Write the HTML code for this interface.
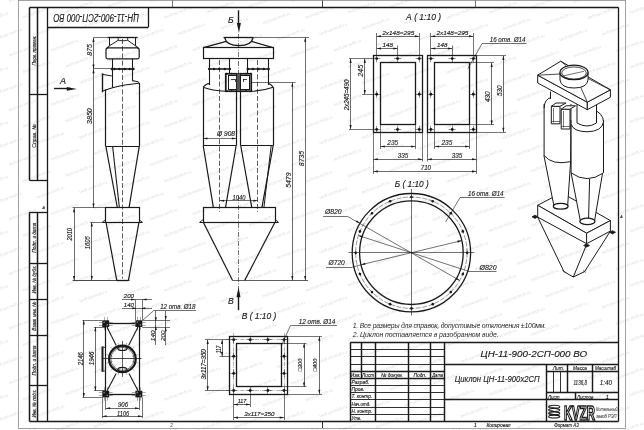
<!DOCTYPE html>
<html><head><meta charset="utf-8"><style>
html,body{margin:0;padding:0;background:#fff;width:644px;height:430px;overflow:hidden}
svg{display:block;filter:grayscale(1)}
text{font-family:"Liberation Sans",sans-serif}
</style></head><body>
<svg width="644" height="430" viewBox="0 0 644 430" stroke-linecap="butt">
<rect x="0" y="0" width="644" height="430" fill="#fff"/>
<defs><filter id="wb" x="-5%" y="-5%" width="110%" height="110%"><feGaussianBlur stdDeviation="0.45"/></filter><text id="wm" x="0" y="0" font-size="4.3" fill="#dcdcdc" textLength="29" lengthAdjust="spacingAndGlyphs" transform="rotate(-20.3)">tecfrost-tech.ru</text></defs>
<g filter="url(#wb)"><use href="#wm" x="-18.8" y="24.0"/><use href="#wm" x="-18.8" y="78.6"/><use href="#wm" x="-18.8" y="133.2"/><use href="#wm" x="-18.8" y="187.8"/><use href="#wm" x="-18.8" y="242.4"/><use href="#wm" x="-18.8" y="297.0"/><use href="#wm" x="-18.8" y="351.6"/><use href="#wm" x="-18.8" y="406.2"/><use href="#wm" x="-4.7" y="40.4"/><use href="#wm" x="-4.7" y="95.0"/><use href="#wm" x="-4.7" y="149.6"/><use href="#wm" x="-4.7" y="204.2"/><use href="#wm" x="-4.7" y="258.8"/><use href="#wm" x="-4.7" y="313.4"/><use href="#wm" x="-4.7" y="368.0"/><use href="#wm" x="-4.7" y="422.6"/><use href="#wm" x="9.4" y="2.2"/><use href="#wm" x="9.4" y="56.8"/><use href="#wm" x="9.4" y="111.4"/><use href="#wm" x="9.4" y="166.0"/><use href="#wm" x="9.4" y="220.6"/><use href="#wm" x="9.4" y="275.2"/><use href="#wm" x="9.4" y="329.8"/><use href="#wm" x="9.4" y="384.4"/><use href="#wm" x="9.4" y="439.0"/><use href="#wm" x="23.5" y="18.6"/><use href="#wm" x="23.5" y="73.2"/><use href="#wm" x="23.5" y="127.8"/><use href="#wm" x="23.5" y="182.4"/><use href="#wm" x="23.5" y="237.0"/><use href="#wm" x="23.5" y="291.6"/><use href="#wm" x="23.5" y="346.2"/><use href="#wm" x="23.5" y="400.8"/><use href="#wm" x="37.6" y="35.0"/><use href="#wm" x="37.6" y="89.6"/><use href="#wm" x="37.6" y="144.2"/><use href="#wm" x="37.6" y="198.8"/><use href="#wm" x="37.6" y="253.4"/><use href="#wm" x="37.6" y="308.0"/><use href="#wm" x="37.6" y="362.6"/><use href="#wm" x="37.6" y="417.2"/><use href="#wm" x="51.8" y="-3.2"/><use href="#wm" x="51.8" y="51.4"/><use href="#wm" x="51.8" y="106.0"/><use href="#wm" x="51.8" y="160.6"/><use href="#wm" x="51.8" y="215.2"/><use href="#wm" x="51.8" y="269.8"/><use href="#wm" x="51.8" y="324.4"/><use href="#wm" x="51.8" y="379.0"/><use href="#wm" x="51.8" y="433.6"/><use href="#wm" x="65.9" y="13.2"/><use href="#wm" x="65.9" y="67.8"/><use href="#wm" x="65.9" y="122.4"/><use href="#wm" x="65.9" y="177.0"/><use href="#wm" x="65.9" y="231.6"/><use href="#wm" x="65.9" y="286.2"/><use href="#wm" x="65.9" y="340.8"/><use href="#wm" x="65.9" y="395.4"/><use href="#wm" x="80.0" y="29.6"/><use href="#wm" x="80.0" y="84.2"/><use href="#wm" x="80.0" y="138.8"/><use href="#wm" x="80.0" y="193.4"/><use href="#wm" x="80.0" y="248.0"/><use href="#wm" x="80.0" y="302.6"/><use href="#wm" x="80.0" y="357.2"/><use href="#wm" x="80.0" y="411.8"/><use href="#wm" x="94.1" y="46.0"/><use href="#wm" x="94.1" y="100.6"/><use href="#wm" x="94.1" y="155.2"/><use href="#wm" x="94.1" y="209.8"/><use href="#wm" x="94.1" y="264.4"/><use href="#wm" x="94.1" y="319.0"/><use href="#wm" x="94.1" y="373.6"/><use href="#wm" x="94.1" y="428.2"/><use href="#wm" x="108.2" y="7.8"/><use href="#wm" x="108.2" y="62.4"/><use href="#wm" x="108.2" y="117.0"/><use href="#wm" x="108.2" y="171.6"/><use href="#wm" x="108.2" y="226.2"/><use href="#wm" x="108.2" y="280.8"/><use href="#wm" x="108.2" y="335.4"/><use href="#wm" x="108.2" y="390.0"/><use href="#wm" x="108.2" y="444.6"/><use href="#wm" x="122.4" y="24.2"/><use href="#wm" x="122.4" y="78.8"/><use href="#wm" x="122.4" y="133.4"/><use href="#wm" x="122.4" y="188.0"/><use href="#wm" x="122.4" y="242.6"/><use href="#wm" x="122.4" y="297.2"/><use href="#wm" x="122.4" y="351.8"/><use href="#wm" x="122.4" y="406.4"/><use href="#wm" x="136.5" y="40.6"/><use href="#wm" x="136.5" y="95.2"/><use href="#wm" x="136.5" y="149.8"/><use href="#wm" x="136.5" y="204.4"/><use href="#wm" x="136.5" y="259.0"/><use href="#wm" x="136.5" y="313.6"/><use href="#wm" x="136.5" y="368.2"/><use href="#wm" x="136.5" y="422.8"/><use href="#wm" x="150.6" y="2.4"/><use href="#wm" x="150.6" y="57.0"/><use href="#wm" x="150.6" y="111.6"/><use href="#wm" x="150.6" y="166.2"/><use href="#wm" x="150.6" y="220.8"/><use href="#wm" x="150.6" y="275.4"/><use href="#wm" x="150.6" y="330.0"/><use href="#wm" x="150.6" y="384.6"/><use href="#wm" x="150.6" y="439.2"/><use href="#wm" x="164.7" y="18.8"/><use href="#wm" x="164.7" y="73.4"/><use href="#wm" x="164.7" y="128.0"/><use href="#wm" x="164.7" y="182.6"/><use href="#wm" x="164.7" y="237.2"/><use href="#wm" x="164.7" y="291.8"/><use href="#wm" x="164.7" y="346.4"/><use href="#wm" x="164.7" y="401.0"/><use href="#wm" x="178.8" y="35.2"/><use href="#wm" x="178.8" y="89.8"/><use href="#wm" x="178.8" y="144.4"/><use href="#wm" x="178.8" y="199.0"/><use href="#wm" x="178.8" y="253.6"/><use href="#wm" x="178.8" y="308.2"/><use href="#wm" x="178.8" y="362.8"/><use href="#wm" x="178.8" y="417.4"/><use href="#wm" x="193.0" y="-3.0"/><use href="#wm" x="193.0" y="51.6"/><use href="#wm" x="193.0" y="106.2"/><use href="#wm" x="193.0" y="160.8"/><use href="#wm" x="193.0" y="215.4"/><use href="#wm" x="193.0" y="270.0"/><use href="#wm" x="193.0" y="324.6"/><use href="#wm" x="193.0" y="379.2"/><use href="#wm" x="193.0" y="433.8"/><use href="#wm" x="207.1" y="13.4"/><use href="#wm" x="207.1" y="68.0"/><use href="#wm" x="207.1" y="122.6"/><use href="#wm" x="207.1" y="177.2"/><use href="#wm" x="207.1" y="231.8"/><use href="#wm" x="207.1" y="286.4"/><use href="#wm" x="207.1" y="341.0"/><use href="#wm" x="207.1" y="395.6"/><use href="#wm" x="221.2" y="29.8"/><use href="#wm" x="221.2" y="84.4"/><use href="#wm" x="221.2" y="139.0"/><use href="#wm" x="221.2" y="193.6"/><use href="#wm" x="221.2" y="248.2"/><use href="#wm" x="221.2" y="302.8"/><use href="#wm" x="221.2" y="357.4"/><use href="#wm" x="221.2" y="412.0"/><use href="#wm" x="235.3" y="46.2"/><use href="#wm" x="235.3" y="100.8"/><use href="#wm" x="235.3" y="155.4"/><use href="#wm" x="235.3" y="210.0"/><use href="#wm" x="235.3" y="264.6"/><use href="#wm" x="235.3" y="319.2"/><use href="#wm" x="235.3" y="373.8"/><use href="#wm" x="235.3" y="428.4"/><use href="#wm" x="249.4" y="8.0"/><use href="#wm" x="249.4" y="62.6"/><use href="#wm" x="249.4" y="117.2"/><use href="#wm" x="249.4" y="171.8"/><use href="#wm" x="249.4" y="226.4"/><use href="#wm" x="249.4" y="281.0"/><use href="#wm" x="249.4" y="335.6"/><use href="#wm" x="249.4" y="390.2"/><use href="#wm" x="249.4" y="444.8"/><use href="#wm" x="263.6" y="24.4"/><use href="#wm" x="263.6" y="79.0"/><use href="#wm" x="263.6" y="133.6"/><use href="#wm" x="263.6" y="188.2"/><use href="#wm" x="263.6" y="242.8"/><use href="#wm" x="263.6" y="297.4"/><use href="#wm" x="263.6" y="352.0"/><use href="#wm" x="263.6" y="406.6"/><use href="#wm" x="277.7" y="40.8"/><use href="#wm" x="277.7" y="95.4"/><use href="#wm" x="277.7" y="150.0"/><use href="#wm" x="277.7" y="204.6"/><use href="#wm" x="277.7" y="259.2"/><use href="#wm" x="277.7" y="313.8"/><use href="#wm" x="277.7" y="368.4"/><use href="#wm" x="277.7" y="423.0"/><use href="#wm" x="291.8" y="2.6"/><use href="#wm" x="291.8" y="57.2"/><use href="#wm" x="291.8" y="111.8"/><use href="#wm" x="291.8" y="166.4"/><use href="#wm" x="291.8" y="221.0"/><use href="#wm" x="291.8" y="275.6"/><use href="#wm" x="291.8" y="330.2"/><use href="#wm" x="291.8" y="384.8"/><use href="#wm" x="291.8" y="439.4"/><use href="#wm" x="305.9" y="19.0"/><use href="#wm" x="305.9" y="73.6"/><use href="#wm" x="305.9" y="128.2"/><use href="#wm" x="305.9" y="182.8"/><use href="#wm" x="305.9" y="237.4"/><use href="#wm" x="305.9" y="292.0"/><use href="#wm" x="305.9" y="346.6"/><use href="#wm" x="305.9" y="401.2"/><use href="#wm" x="320.0" y="35.4"/><use href="#wm" x="320.0" y="90.0"/><use href="#wm" x="320.0" y="144.6"/><use href="#wm" x="320.0" y="199.2"/><use href="#wm" x="320.0" y="253.8"/><use href="#wm" x="320.0" y="308.4"/><use href="#wm" x="320.0" y="363.0"/><use href="#wm" x="320.0" y="417.6"/><use href="#wm" x="334.2" y="-2.8"/><use href="#wm" x="334.2" y="51.8"/><use href="#wm" x="334.2" y="106.4"/><use href="#wm" x="334.2" y="161.0"/><use href="#wm" x="334.2" y="215.6"/><use href="#wm" x="334.2" y="270.2"/><use href="#wm" x="334.2" y="324.8"/><use href="#wm" x="334.2" y="379.4"/><use href="#wm" x="334.2" y="434.0"/><use href="#wm" x="348.3" y="13.6"/><use href="#wm" x="348.3" y="68.2"/><use href="#wm" x="348.3" y="122.8"/><use href="#wm" x="348.3" y="177.4"/><use href="#wm" x="348.3" y="232.0"/><use href="#wm" x="348.3" y="286.6"/><use href="#wm" x="348.3" y="341.2"/><use href="#wm" x="348.3" y="395.8"/><use href="#wm" x="362.4" y="30.0"/><use href="#wm" x="362.4" y="84.6"/><use href="#wm" x="362.4" y="139.2"/><use href="#wm" x="362.4" y="193.8"/><use href="#wm" x="362.4" y="248.4"/><use href="#wm" x="362.4" y="303.0"/><use href="#wm" x="362.4" y="357.6"/><use href="#wm" x="362.4" y="412.2"/><use href="#wm" x="376.5" y="46.4"/><use href="#wm" x="376.5" y="101.0"/><use href="#wm" x="376.5" y="155.6"/><use href="#wm" x="376.5" y="210.2"/><use href="#wm" x="376.5" y="264.8"/><use href="#wm" x="376.5" y="319.4"/><use href="#wm" x="376.5" y="374.0"/><use href="#wm" x="376.5" y="428.6"/><use href="#wm" x="390.6" y="8.2"/><use href="#wm" x="390.6" y="62.8"/><use href="#wm" x="390.6" y="117.4"/><use href="#wm" x="390.6" y="172.0"/><use href="#wm" x="390.6" y="226.6"/><use href="#wm" x="390.6" y="281.2"/><use href="#wm" x="390.6" y="335.8"/><use href="#wm" x="390.6" y="390.4"/><use href="#wm" x="404.8" y="24.6"/><use href="#wm" x="404.8" y="79.2"/><use href="#wm" x="404.8" y="133.8"/><use href="#wm" x="404.8" y="188.4"/><use href="#wm" x="404.8" y="243.0"/><use href="#wm" x="404.8" y="297.6"/><use href="#wm" x="404.8" y="352.2"/><use href="#wm" x="404.8" y="406.8"/><use href="#wm" x="418.9" y="41.0"/><use href="#wm" x="418.9" y="95.6"/><use href="#wm" x="418.9" y="150.2"/><use href="#wm" x="418.9" y="204.8"/><use href="#wm" x="418.9" y="259.4"/><use href="#wm" x="418.9" y="314.0"/><use href="#wm" x="418.9" y="368.6"/><use href="#wm" x="418.9" y="423.2"/><use href="#wm" x="433.0" y="2.8"/><use href="#wm" x="433.0" y="57.4"/><use href="#wm" x="433.0" y="112.0"/><use href="#wm" x="433.0" y="166.6"/><use href="#wm" x="433.0" y="221.2"/><use href="#wm" x="433.0" y="275.8"/><use href="#wm" x="433.0" y="330.4"/><use href="#wm" x="433.0" y="385.0"/><use href="#wm" x="433.0" y="439.6"/><use href="#wm" x="447.1" y="19.2"/><use href="#wm" x="447.1" y="73.8"/><use href="#wm" x="447.1" y="128.4"/><use href="#wm" x="447.1" y="183.0"/><use href="#wm" x="447.1" y="237.6"/><use href="#wm" x="447.1" y="292.2"/><use href="#wm" x="447.1" y="346.8"/><use href="#wm" x="447.1" y="401.4"/><use href="#wm" x="461.2" y="35.6"/><use href="#wm" x="461.2" y="90.2"/><use href="#wm" x="461.2" y="144.8"/><use href="#wm" x="461.2" y="199.4"/><use href="#wm" x="461.2" y="254.0"/><use href="#wm" x="461.2" y="308.6"/><use href="#wm" x="461.2" y="363.2"/><use href="#wm" x="461.2" y="417.8"/><use href="#wm" x="475.4" y="-2.6"/><use href="#wm" x="475.4" y="52.0"/><use href="#wm" x="475.4" y="106.6"/><use href="#wm" x="475.4" y="161.2"/><use href="#wm" x="475.4" y="215.8"/><use href="#wm" x="475.4" y="270.4"/><use href="#wm" x="475.4" y="325.0"/><use href="#wm" x="475.4" y="379.6"/><use href="#wm" x="475.4" y="434.2"/><use href="#wm" x="489.5" y="13.8"/><use href="#wm" x="489.5" y="68.4"/><use href="#wm" x="489.5" y="123.0"/><use href="#wm" x="489.5" y="177.6"/><use href="#wm" x="489.5" y="232.2"/><use href="#wm" x="489.5" y="286.8"/><use href="#wm" x="489.5" y="341.4"/><use href="#wm" x="489.5" y="396.0"/><use href="#wm" x="503.6" y="30.2"/><use href="#wm" x="503.6" y="84.8"/><use href="#wm" x="503.6" y="139.4"/><use href="#wm" x="503.6" y="194.0"/><use href="#wm" x="503.6" y="248.6"/><use href="#wm" x="503.6" y="303.2"/><use href="#wm" x="503.6" y="357.8"/><use href="#wm" x="503.6" y="412.4"/><use href="#wm" x="517.7" y="46.6"/><use href="#wm" x="517.7" y="101.2"/><use href="#wm" x="517.7" y="155.8"/><use href="#wm" x="517.7" y="210.4"/><use href="#wm" x="517.7" y="265.0"/><use href="#wm" x="517.7" y="319.6"/><use href="#wm" x="517.7" y="374.2"/><use href="#wm" x="517.7" y="428.8"/><use href="#wm" x="531.8" y="8.4"/><use href="#wm" x="531.8" y="63.0"/><use href="#wm" x="531.8" y="117.6"/><use href="#wm" x="531.8" y="172.2"/><use href="#wm" x="531.8" y="226.8"/><use href="#wm" x="531.8" y="281.4"/><use href="#wm" x="531.8" y="336.0"/><use href="#wm" x="531.8" y="390.6"/><use href="#wm" x="546.0" y="24.8"/><use href="#wm" x="546.0" y="79.4"/><use href="#wm" x="546.0" y="134.0"/><use href="#wm" x="546.0" y="188.6"/><use href="#wm" x="546.0" y="243.2"/><use href="#wm" x="546.0" y="297.8"/><use href="#wm" x="546.0" y="352.4"/><use href="#wm" x="546.0" y="407.0"/><use href="#wm" x="560.1" y="41.2"/><use href="#wm" x="560.1" y="95.8"/><use href="#wm" x="560.1" y="150.4"/><use href="#wm" x="560.1" y="205.0"/><use href="#wm" x="560.1" y="259.6"/><use href="#wm" x="560.1" y="314.2"/><use href="#wm" x="560.1" y="368.8"/><use href="#wm" x="560.1" y="423.4"/><use href="#wm" x="574.2" y="3.0"/><use href="#wm" x="574.2" y="57.6"/><use href="#wm" x="574.2" y="112.2"/><use href="#wm" x="574.2" y="166.8"/><use href="#wm" x="574.2" y="221.4"/><use href="#wm" x="574.2" y="276.0"/><use href="#wm" x="574.2" y="330.6"/><use href="#wm" x="574.2" y="385.2"/><use href="#wm" x="574.2" y="439.8"/><use href="#wm" x="588.3" y="19.4"/><use href="#wm" x="588.3" y="74.0"/><use href="#wm" x="588.3" y="128.6"/><use href="#wm" x="588.3" y="183.2"/><use href="#wm" x="588.3" y="237.8"/><use href="#wm" x="588.3" y="292.4"/><use href="#wm" x="588.3" y="347.0"/><use href="#wm" x="588.3" y="401.6"/><use href="#wm" x="602.4" y="35.8"/><use href="#wm" x="602.4" y="90.4"/><use href="#wm" x="602.4" y="145.0"/><use href="#wm" x="602.4" y="199.6"/><use href="#wm" x="602.4" y="254.2"/><use href="#wm" x="602.4" y="308.8"/><use href="#wm" x="602.4" y="363.4"/><use href="#wm" x="602.4" y="418.0"/><use href="#wm" x="616.6" y="-2.4"/><use href="#wm" x="616.6" y="52.2"/><use href="#wm" x="616.6" y="106.8"/><use href="#wm" x="616.6" y="161.4"/><use href="#wm" x="616.6" y="216.0"/><use href="#wm" x="616.6" y="270.6"/><use href="#wm" x="616.6" y="325.2"/><use href="#wm" x="616.6" y="379.8"/><use href="#wm" x="616.6" y="434.4"/><use href="#wm" x="630.7" y="14.0"/><use href="#wm" x="630.7" y="68.6"/><use href="#wm" x="630.7" y="123.2"/><use href="#wm" x="630.7" y="177.8"/><use href="#wm" x="630.7" y="232.4"/><use href="#wm" x="630.7" y="287.0"/><use href="#wm" x="630.7" y="341.6"/><use href="#wm" x="630.7" y="396.2"/><use href="#wm" x="644.8" y="30.4"/><use href="#wm" x="644.8" y="85.0"/><use href="#wm" x="644.8" y="139.6"/><use href="#wm" x="644.8" y="194.2"/><use href="#wm" x="644.8" y="248.8"/><use href="#wm" x="644.8" y="303.4"/><use href="#wm" x="644.8" y="358.0"/><use href="#wm" x="644.8" y="412.6"/></g>
<rect x="18.5" y="0.5" width="607.0" height="428.0" fill="none" stroke="#8a8a8a" stroke-width="0.8"/>
<line x1="29.5" y1="7.5" x2="618.5" y2="7.5" stroke="#1a1a1a" stroke-width="1.3" />
<line x1="618.5" y1="7.5" x2="618.5" y2="421.5" stroke="#1a1a1a" stroke-width="1.3" />
<line x1="29.5" y1="421.5" x2="618.5" y2="421.5" stroke="#1a1a1a" stroke-width="1.3" />
<line x1="47.5" y1="7.5" x2="47.5" y2="421.5" stroke="#1a1a1a" stroke-width="1.3" />
<line x1="29.5" y1="7.5" x2="29.5" y2="180.3" stroke="#1a1a1a" stroke-width="1.5" />
<line x1="37.5" y1="7.5" x2="37.5" y2="180.3" stroke="#1a1a1a" stroke-width="1.5" />
<line x1="29.5" y1="180.5" x2="47.5" y2="180.5" stroke="#1a1a1a" stroke-width="1.3" />
<line x1="29.5" y1="94.5" x2="47.5" y2="94.5" stroke="#1a1a1a" stroke-width="1.3" />
<line x1="29.5" y1="212.3" x2="29.5" y2="421.5" stroke="#1a1a1a" stroke-width="1.5" />
<line x1="37.5" y1="212.3" x2="37.5" y2="421.5" stroke="#1a1a1a" stroke-width="1.5" />
<line x1="29.5" y1="212.5" x2="47.5" y2="212.5" stroke="#1a1a1a" stroke-width="1.3" />
<line x1="29.5" y1="263.5" x2="47.5" y2="263.5" stroke="#1a1a1a" stroke-width="1.3" />
<line x1="29.5" y1="299.5" x2="47.5" y2="299.5" stroke="#1a1a1a" stroke-width="1.3" />
<line x1="29.5" y1="335.5" x2="47.5" y2="335.5" stroke="#1a1a1a" stroke-width="1.3" />
<line x1="29.5" y1="385.5" x2="47.5" y2="385.5" stroke="#1a1a1a" stroke-width="1.3" />
<text x="35.8" y="50.6" font-size="5.2" font-style="italic" text-anchor="middle" fill="#1a1a1a" stroke="#1a1a1a" stroke-width="0.14" textLength="30" lengthAdjust="spacingAndGlyphs" transform="rotate(-90 35.8 50.6)" >Перв. примен.</text>
<text x="35.8" y="136" font-size="5.2" font-style="italic" text-anchor="middle" fill="#1a1a1a" stroke="#1a1a1a" stroke-width="0.14" textLength="23.5" lengthAdjust="spacingAndGlyphs" transform="rotate(-90 35.8 136)" >Справ. №</text>
<text x="35.8" y="237.7" font-size="5.2" font-style="italic" text-anchor="middle" fill="#1a1a1a" stroke="#1a1a1a" stroke-width="0.14" textLength="30" lengthAdjust="spacingAndGlyphs" transform="rotate(-90 35.8 237.7)" >Подп. и дата</text>
<text x="35.8" y="279.5" font-size="5.2" font-style="italic" text-anchor="middle" fill="#1a1a1a" stroke="#1a1a1a" stroke-width="0.14" textLength="28" lengthAdjust="spacingAndGlyphs" transform="rotate(-90 35.8 279.5)" >Инв. № дубл.</text>
<text x="35.8" y="316.2" font-size="5.2" font-style="italic" text-anchor="middle" fill="#1a1a1a" stroke="#1a1a1a" stroke-width="0.14" textLength="29" lengthAdjust="spacingAndGlyphs" transform="rotate(-90 35.8 316.2)" >Взам. инв. №</text>
<text x="35.8" y="360.5" font-size="5.2" font-style="italic" text-anchor="middle" fill="#1a1a1a" stroke="#1a1a1a" stroke-width="0.14" textLength="30" lengthAdjust="spacingAndGlyphs" transform="rotate(-90 35.8 360.5)" >Подп. и дата</text>
<text x="35.8" y="403.5" font-size="5.2" font-style="italic" text-anchor="middle" fill="#1a1a1a" stroke="#1a1a1a" stroke-width="0.14" textLength="28" lengthAdjust="spacingAndGlyphs" transform="rotate(-90 35.8 403.5)" >Инв. № подл.</text>
<line x1="148.5" y1="7.5" x2="148.5" y2="27.2" stroke="#1a1a1a" stroke-width="1.3" />
<line x1="47.5" y1="27.5" x2="148.4" y2="27.5" stroke="#1a1a1a" stroke-width="1.3" />
<text x="96.2" y="13.9" font-size="10.6" font-style="italic" text-anchor="middle" fill="#1a1a1a" stroke="#1a1a1a" stroke-width="0.14" textLength="85.6" lengthAdjust="spacingAndGlyphs" transform="rotate(180 96.2 13.9)" >ЦН-11-900-2СП-000 ВО</text>
<line x1="172.5" y1="0.5" x2="172.5" y2="7.5" stroke="#1a1a1a" stroke-width="0.6" />
<line x1="322.5" y1="0.5" x2="322.5" y2="7.5" stroke="#1a1a1a" stroke-width="0.8" />
<line x1="475.5" y1="0.5" x2="475.5" y2="7.5" stroke="#1a1a1a" stroke-width="0.6" />
<line x1="322.5" y1="421.5" x2="322.5" y2="428" stroke="#1a1a1a" stroke-width="0.9" />
<text x="171.5" y="427.2" font-size="4.5" font-style="italic" text-anchor="middle" fill="#666" stroke="#666" stroke-width="0.14" >2</text>
<text x="43.8" y="209" font-size="3.6" font-style="italic" text-anchor="middle" fill="#1a1a1a" stroke="#1a1a1a" stroke-width="0.14" >А</text>
<text x="621.5" y="218" font-size="3.6" font-style="italic" text-anchor="middle" fill="#1a1a1a" stroke="#1a1a1a" stroke-width="0.14" >А</text>
<line x1="122.5" y1="39" x2="122.5" y2="278.5" stroke="#1a1a1a" stroke-width="0.7" stroke-dasharray="5,2.2"/>
<line x1="107.5" y1="37.5" x2="137.6" y2="37.5" stroke="#1a1a1a" stroke-width="1.3" />
<line x1="109.5" y1="37.6" x2="109.5" y2="45.7" stroke="#1a1a1a" stroke-width="1.0" />
<line x1="135.5" y1="37.6" x2="135.5" y2="45.7" stroke="#1a1a1a" stroke-width="1.0" />
<path d="M118.2,37.6 L118.2,40.3 Q123,41.3 127.7,40.3 L127.7,37.6" fill="none" stroke="#1a1a1a" stroke-width="0.9" />
<line x1="118.2" y1="40.3" x2="109.6" y2="45.7" stroke="#1a1a1a" stroke-width="1.0" />
<line x1="127.7" y1="40.3" x2="135.4" y2="45.7" stroke="#1a1a1a" stroke-width="1.0" />
<line x1="109.6" y1="45.7" x2="106.8" y2="48.2" stroke="#1a1a1a" stroke-width="1.1" />
<line x1="135.4" y1="45.7" x2="138.4" y2="48.2" stroke="#1a1a1a" stroke-width="1.1" />
<path d="M106,50 Q106,47.9 108.2,47.9 L137,47.9 Q139.2,47.9 139.2,50 L139.2,57 Q139.2,58.8 137.4,58.8 L107.8,58.8 Q106,58.8 106,57 Z" fill="none" stroke="#1a1a1a" stroke-width="1.2" />
<line x1="112.5" y1="58.8" x2="112.5" y2="87.5" stroke="#1a1a1a" stroke-width="1.1" />
<line x1="132.5" y1="58.8" x2="132.5" y2="80.8" stroke="#1a1a1a" stroke-width="1.1" />
<path d="M111,69 L134.3,69" fill="none" stroke="#1a1a1a" stroke-width="1.6" />
<circle cx="111.8" cy="69" r="1.2" fill="#1a1a1a"/>
<circle cx="114.5" cy="69" r="1.2" fill="#1a1a1a"/>
<circle cx="119.4" cy="69" r="1.2" fill="#1a1a1a"/>
<circle cx="124.8" cy="69" r="1.2" fill="#1a1a1a"/>
<circle cx="129.7" cy="69" r="1.2" fill="#1a1a1a"/>
<circle cx="133.3" cy="69" r="1.2" fill="#1a1a1a"/>
<line x1="102.5" y1="73.3" x2="102.5" y2="92.3" stroke="#1a1a1a" stroke-width="1.4" />
<line x1="102.9" y1="74.5" x2="111.8" y2="75.9" stroke="#1a1a1a" stroke-width="1.0" />
<line x1="102.9" y1="91" x2="104.8" y2="90.3" stroke="#1a1a1a" stroke-width="1.0" />
<path d="M104.5,90.6 Q112,87.3 125,85 Q134,83.6 138.6,83.2 Q140,81.8 132.2,80.6" fill="none" stroke="#1a1a1a" stroke-width="1.1" />
<line x1="105.5" y1="89.5" x2="105.5" y2="146.2" stroke="#1a1a1a" stroke-width="1.2" />
<line x1="139.5" y1="83" x2="139.5" y2="146.2" stroke="#1a1a1a" stroke-width="1.2" />
<line x1="105.8" y1="146.5" x2="139.3" y2="146.5" stroke="#1a1a1a" stroke-width="1.2" />
<line x1="105.8" y1="146.2" x2="117.4" y2="207.8" stroke="#1a1a1a" stroke-width="1.2" />
<line x1="112.6" y1="146.2" x2="119.4" y2="207.8" stroke="#1a1a1a" stroke-width="1.1" />
<line x1="139.3" y1="146.2" x2="129" y2="207.8" stroke="#1a1a1a" stroke-width="1.2" />
<rect x="105.5" y="207.5" width="34.0" height="15.0" fill="none" stroke="#1a1a1a" stroke-width="1.2"/>
<polyline points="102.3,222.2 105.6,219.8" fill="none" stroke="#1a1a1a" stroke-width="0.9" />
<polyline points="142.5,222.2 139.2,219.8" fill="none" stroke="#1a1a1a" stroke-width="0.9" />
<line x1="102.3" y1="222.5" x2="142.5" y2="222.5" stroke="#1a1a1a" stroke-width="1.2" />
<line x1="106" y1="222.2" x2="116.7" y2="280.2" stroke="#1a1a1a" stroke-width="1.2" />
<line x1="139" y1="222.2" x2="128.5" y2="280.2" stroke="#1a1a1a" stroke-width="1.2" />
<line x1="116.7" y1="280.5" x2="128.5" y2="280.5" stroke="#1a1a1a" stroke-width="1.3" />
<line x1="72.6" y1="280.5" x2="129.6" y2="280.5" stroke="#1a1a1a" stroke-width="0.8" />
<line x1="93.5" y1="37.5" x2="107.5" y2="37.5" stroke="#1a1a1a" stroke-width="0.62" />
<line x1="93.5" y1="68.5" x2="110.9" y2="68.5" stroke="#1a1a1a" stroke-width="0.62" />
<line x1="72.6" y1="207.5" x2="105.6" y2="207.5" stroke="#1a1a1a" stroke-width="0.62" />
<line x1="90.3" y1="222.5" x2="102.3" y2="222.5" stroke="#1a1a1a" stroke-width="0.62" />
<line x1="93.5" y1="37.6" x2="93.5" y2="68.9" stroke="#1a1a1a" stroke-width="0.65" />
<polygon points="93.5,37.6 94.55,41.90 92.45,41.90" fill="#1a1a1a"/>
<polygon points="93.5,68.9 92.45,64.60 94.55,64.60" fill="#1a1a1a"/>
<line x1="93.5" y1="68.9" x2="93.5" y2="207.9" stroke="#1a1a1a" stroke-width="0.65" />
<polygon points="93.5,68.9 94.55,73.20 92.45,73.20" fill="#1a1a1a"/>
<polygon points="93.5,207.9 92.45,203.60 94.55,203.60" fill="#1a1a1a"/>
<line x1="74.5" y1="207.9" x2="74.5" y2="280.2" stroke="#1a1a1a" stroke-width="0.65" />
<polygon points="74,207.9 75.05,212.20 72.95,212.20" fill="#1a1a1a"/>
<polygon points="74,280.2 72.95,275.90 75.05,275.90" fill="#1a1a1a"/>
<line x1="91.5" y1="222.2" x2="91.5" y2="280.2" stroke="#1a1a1a" stroke-width="0.65" />
<polygon points="91.8,222.2 92.85,226.50 90.75,226.50" fill="#1a1a1a"/>
<polygon points="91.8,280.2 90.75,275.90 92.85,275.90" fill="#1a1a1a"/>
<text x="92.4" y="49.9" font-size="6.8" font-style="italic" text-anchor="middle" fill="#1a1a1a" stroke="#1a1a1a" stroke-width="0.14" textLength="11.8" lengthAdjust="spacingAndGlyphs" transform="rotate(-90 92.4 49.9)" >875</text>
<text x="92.4" y="116.1" font-size="6.8" font-style="italic" text-anchor="middle" fill="#1a1a1a" stroke="#1a1a1a" stroke-width="0.14" textLength="15.8" lengthAdjust="spacingAndGlyphs" transform="rotate(-90 92.4 116.1)" >3850</text>
<text x="72.2" y="234.3" font-size="6.8" font-style="italic" text-anchor="middle" fill="#1a1a1a" stroke="#1a1a1a" stroke-width="0.14" textLength="12.6" lengthAdjust="spacingAndGlyphs" transform="rotate(-90 72.2 234.3)" >2010</text>
<text x="90.4" y="242.8" font-size="6.8" font-style="italic" text-anchor="middle" fill="#1a1a1a" stroke="#1a1a1a" stroke-width="0.14" textLength="13" lengthAdjust="spacingAndGlyphs" transform="rotate(-90 90.4 242.8)" >1605</text>
<line x1="54" y1="88.5" x2="70" y2="88.5" stroke="#1a1a1a" stroke-width="1.4" />
<polygon points="76.8,88.9 66.80,90.70 66.80,87.10" fill="#1a1a1a"/>
<text x="63" y="83.6" font-size="9" font-style="italic" text-anchor="middle" fill="#1a1a1a" stroke="#1a1a1a" stroke-width="0.14" >А</text>
<rect x="102.3" y="320.3" width="6.9" height="6.7" fill="#1a1a1a"/>
<circle cx="104.2" cy="322.2" r="0.75" fill="#fff"/>
<circle cx="107.3" cy="325.1" r="0.75" fill="#fff"/>
<line x1="104.5" y1="316.8" x2="104.5" y2="330.3" stroke="#1a1a1a" stroke-width="0.35" />
<line x1="107.5" y1="316.8" x2="107.5" y2="330.3" stroke="#1a1a1a" stroke-width="0.35" />
<line x1="98.8" y1="322.5" x2="112.7" y2="322.5" stroke="#1a1a1a" stroke-width="0.35" />
<line x1="98.8" y1="325.5" x2="112.7" y2="325.5" stroke="#1a1a1a" stroke-width="0.35" />
<rect x="135.4" y="320.3" width="6.9" height="6.7" fill="#1a1a1a"/>
<circle cx="137.3" cy="322.2" r="0.75" fill="#fff"/>
<circle cx="140.4" cy="325.1" r="0.75" fill="#fff"/>
<line x1="137.5" y1="316.8" x2="137.5" y2="330.3" stroke="#1a1a1a" stroke-width="0.35" />
<line x1="140.5" y1="316.8" x2="140.5" y2="330.3" stroke="#1a1a1a" stroke-width="0.35" />
<line x1="131.9" y1="322.5" x2="145.8" y2="322.5" stroke="#1a1a1a" stroke-width="0.35" />
<line x1="131.9" y1="325.5" x2="145.8" y2="325.5" stroke="#1a1a1a" stroke-width="0.35" />
<rect x="102.3" y="390.7" width="6.9" height="6.7" fill="#1a1a1a"/>
<circle cx="104.2" cy="392.59999999999997" r="0.75" fill="#fff"/>
<circle cx="107.3" cy="395.5" r="0.75" fill="#fff"/>
<line x1="104.5" y1="387.2" x2="104.5" y2="400.7" stroke="#1a1a1a" stroke-width="0.35" />
<line x1="107.5" y1="387.2" x2="107.5" y2="400.7" stroke="#1a1a1a" stroke-width="0.35" />
<line x1="98.8" y1="392.5" x2="112.7" y2="392.5" stroke="#1a1a1a" stroke-width="0.35" />
<line x1="98.8" y1="395.5" x2="112.7" y2="395.5" stroke="#1a1a1a" stroke-width="0.35" />
<rect x="135.4" y="390.7" width="6.9" height="6.7" fill="#1a1a1a"/>
<circle cx="137.3" cy="392.59999999999997" r="0.75" fill="#fff"/>
<circle cx="140.4" cy="395.5" r="0.75" fill="#fff"/>
<line x1="137.5" y1="387.2" x2="137.5" y2="400.7" stroke="#1a1a1a" stroke-width="0.35" />
<line x1="140.5" y1="387.2" x2="140.5" y2="400.7" stroke="#1a1a1a" stroke-width="0.35" />
<line x1="131.9" y1="392.5" x2="145.8" y2="392.5" stroke="#1a1a1a" stroke-width="0.35" />
<line x1="131.9" y1="395.5" x2="145.8" y2="395.5" stroke="#1a1a1a" stroke-width="0.35" />
<line x1="109.2" y1="323.5" x2="135.4" y2="323.5" stroke="#1a1a1a" stroke-width="1.3" />
<line x1="109.2" y1="394.5" x2="135.4" y2="394.5" stroke="#1a1a1a" stroke-width="1.3" />
<line x1="105.5" y1="327" x2="105.5" y2="390.7" stroke="#1a1a1a" stroke-width="1.2" />
<line x1="139.5" y1="327" x2="139.5" y2="390.7" stroke="#1a1a1a" stroke-width="1.2" />
<line x1="107" y1="327" x2="116.2" y2="345.5" stroke="#1a1a1a" stroke-width="1.1" />
<line x1="138" y1="327" x2="128.6" y2="345.5" stroke="#1a1a1a" stroke-width="1.1" />
<line x1="107" y1="390.7" x2="116.2" y2="373.4" stroke="#1a1a1a" stroke-width="1.1" />
<line x1="138" y1="390.7" x2="129" y2="373.4" stroke="#1a1a1a" stroke-width="1.1" />
<circle cx="122.4" cy="358.9" r="13.3" fill="none" stroke="#1a1a1a" stroke-width="2.2" />
<circle cx="122.4" cy="358.9" r="11.6" fill="none" stroke="#1a1a1a" stroke-width="0.6" />
<line x1="132.06" y1="361.49" x2="138.34" y2="363.17" stroke="#1a1a1a" stroke-width="0.35" />
<line x1="129.47" y1="365.97" x2="134.07" y2="370.57" stroke="#1a1a1a" stroke-width="0.35" />
<line x1="124.99" y1="368.56" x2="126.67" y2="374.84" stroke="#1a1a1a" stroke-width="0.35" />
<line x1="119.81" y1="368.56" x2="118.13" y2="374.84" stroke="#1a1a1a" stroke-width="0.35" />
<line x1="115.33" y1="365.97" x2="110.73" y2="370.57" stroke="#1a1a1a" stroke-width="0.35" />
<line x1="112.74" y1="361.49" x2="106.46" y2="363.17" stroke="#1a1a1a" stroke-width="0.35" />
<line x1="112.74" y1="356.31" x2="106.46" y2="354.63" stroke="#1a1a1a" stroke-width="0.35" />
<line x1="115.33" y1="351.83" x2="110.73" y2="347.23" stroke="#1a1a1a" stroke-width="0.35" />
<line x1="119.81" y1="349.24" x2="118.13" y2="342.96" stroke="#1a1a1a" stroke-width="0.35" />
<line x1="124.99" y1="349.24" x2="126.67" y2="342.96" stroke="#1a1a1a" stroke-width="0.35" />
<line x1="129.47" y1="351.83" x2="134.07" y2="347.23" stroke="#1a1a1a" stroke-width="0.35" />
<line x1="132.06" y1="356.31" x2="138.34" y2="354.63" stroke="#1a1a1a" stroke-width="0.35" />
<ellipse cx="122.4" cy="348.2" rx="4.6" ry="2.3" fill="none" stroke="#1a1a1a" stroke-width="1.2" />
<ellipse cx="122.4" cy="369.6" rx="4.6" ry="2.3" fill="none" stroke="#1a1a1a" stroke-width="1.2" />
<line x1="103" y1="358.5" x2="141.5" y2="358.5" stroke="#1a1a1a" stroke-width="0.8" />
<line x1="122.5" y1="341" x2="122.5" y2="377" stroke="#1a1a1a" stroke-width="0.7" />
<line x1="102.5" y1="346.5" x2="102.5" y2="371.8" stroke="#1a1a1a" stroke-width="2.0" />
<line x1="102.9" y1="347" x2="105.8" y2="347.6" stroke="#1a1a1a" stroke-width="0.8" />
<line x1="102.9" y1="371.3" x2="105.8" y2="370.7" stroke="#1a1a1a" stroke-width="0.8" />
<line x1="82.5" y1="320.5" x2="102.3" y2="320.5" stroke="#1a1a1a" stroke-width="0.62" />
<line x1="82.5" y1="397.5" x2="102.3" y2="397.5" stroke="#1a1a1a" stroke-width="0.62" />
<line x1="94" y1="327.5" x2="105.8" y2="327.5" stroke="#1a1a1a" stroke-width="0.62" />
<line x1="94" y1="390.5" x2="105.8" y2="390.5" stroke="#1a1a1a" stroke-width="0.62" />
<line x1="83.5" y1="320.3" x2="83.5" y2="397.4" stroke="#1a1a1a" stroke-width="0.65" />
<polygon points="83.8,320.3 84.85,324.60 82.75,324.60" fill="#1a1a1a"/>
<polygon points="83.8,397.4 82.75,393.10 84.85,393.10" fill="#1a1a1a"/>
<line x1="95.5" y1="327" x2="95.5" y2="390.7" stroke="#1a1a1a" stroke-width="0.65" />
<polygon points="95.3,327 96.35,331.30 94.25,331.30" fill="#1a1a1a"/>
<polygon points="95.3,390.7 94.25,386.40 96.35,386.40" fill="#1a1a1a"/>
<text x="83" y="358.7" font-size="6.8" font-style="italic" text-anchor="middle" fill="#1a1a1a" stroke="#1a1a1a" stroke-width="0.14" textLength="13.2" lengthAdjust="spacingAndGlyphs" transform="rotate(-90 83 358.7)" >2146</text>
<text x="94.2" y="358.4" font-size="6.8" font-style="italic" text-anchor="middle" fill="#1a1a1a" stroke="#1a1a1a" stroke-width="0.14" textLength="13.6" lengthAdjust="spacingAndGlyphs" transform="rotate(-90 94.2 358.4)" >1946</text>
<line x1="105.5" y1="397.5" x2="105.5" y2="410" stroke="#1a1a1a" stroke-width="0.6" />
<line x1="139.5" y1="397.5" x2="139.5" y2="410" stroke="#1a1a1a" stroke-width="0.6" />
<line x1="102.5" y1="397.5" x2="102.5" y2="418" stroke="#1a1a1a" stroke-width="0.6" />
<line x1="142.5" y1="397.5" x2="142.5" y2="418" stroke="#1a1a1a" stroke-width="0.6" />
<line x1="105.8" y1="408.5" x2="139.3" y2="408.5" stroke="#1a1a1a" stroke-width="0.65" />
<polygon points="105.8,408.3 110.10,407.25 110.10,409.35" fill="#1a1a1a"/>
<polygon points="139.3,408.3 135.00,409.35 135.00,407.25" fill="#1a1a1a"/>
<line x1="102.3" y1="416.5" x2="142.3" y2="416.5" stroke="#1a1a1a" stroke-width="0.65" />
<polygon points="102.3,416.2 106.60,415.15 106.60,417.25" fill="#1a1a1a"/>
<polygon points="142.3,416.2 138.00,417.25 138.00,415.15" fill="#1a1a1a"/>
<text x="123" y="407" font-size="6.6" font-style="italic" text-anchor="middle" fill="#1a1a1a" stroke="#1a1a1a" stroke-width="0.14" textLength="10" lengthAdjust="spacingAndGlyphs" >906</text>
<text x="123.1" y="415.6" font-size="6.6" font-style="italic" text-anchor="middle" fill="#1a1a1a" stroke="#1a1a1a" stroke-width="0.14" textLength="12" lengthAdjust="spacingAndGlyphs" >1106</text>
<line x1="135.5" y1="299.5" x2="135.5" y2="320.3" stroke="#1a1a1a" stroke-width="0.6" />
<line x1="142.5" y1="299.5" x2="142.5" y2="320.3" stroke="#1a1a1a" stroke-width="0.6" />
<line x1="122" y1="299.5" x2="152" y2="299.5" stroke="#1a1a1a" stroke-width="0.62" />
<polygon points="142.3,299.5 146.60,298.45 146.60,300.55" fill="#1a1a1a"/>
<polygon points="135.4,299.5 131.10,300.55 131.10,298.45" fill="#1a1a1a"/>
<line x1="122" y1="308.5" x2="152" y2="308.5" stroke="#1a1a1a" stroke-width="0.62" />
<polygon points="141,308.2 145.30,307.15 145.30,309.25" fill="#1a1a1a"/>
<polygon points="136.7,308.2 132.40,309.25 132.40,307.15" fill="#1a1a1a"/>
<text x="128.9" y="298.4" font-size="6" font-style="italic" text-anchor="middle" fill="#1a1a1a" stroke="#1a1a1a" stroke-width="0.14" textLength="10.2" lengthAdjust="spacingAndGlyphs" >200</text>
<text x="128.9" y="307.3" font-size="6" font-style="italic" text-anchor="middle" fill="#1a1a1a" stroke="#1a1a1a" stroke-width="0.14" textLength="10.2" lengthAdjust="spacingAndGlyphs" >140</text>
<line x1="142.3" y1="320.5" x2="170" y2="320.5" stroke="#1a1a1a" stroke-width="0.6" />
<line x1="142.3" y1="327.5" x2="170" y2="327.5" stroke="#1a1a1a" stroke-width="0.6" />
<line x1="155.5" y1="310.8" x2="155.5" y2="345" stroke="#1a1a1a" stroke-width="0.62" />
<polygon points="155.8,321.6 154.75,317.30 156.85,317.30" fill="#1a1a1a"/>
<polygon points="155.8,325.7 156.85,330.00 154.75,330.00" fill="#1a1a1a"/>
<line x1="165.5" y1="310.8" x2="165.5" y2="345" stroke="#1a1a1a" stroke-width="0.62" />
<polygon points="165.7,320.3 164.65,316.00 166.75,316.00" fill="#1a1a1a"/>
<polygon points="165.7,327 166.75,331.30 164.65,331.30" fill="#1a1a1a"/>
<text x="155" y="335.8" font-size="6" font-style="italic" text-anchor="middle" fill="#1a1a1a" stroke="#1a1a1a" stroke-width="0.14" textLength="10.9" lengthAdjust="spacingAndGlyphs" transform="rotate(-90 155 335.8)" >140</text>
<text x="165" y="335.7" font-size="6" font-style="italic" text-anchor="middle" fill="#1a1a1a" stroke="#1a1a1a" stroke-width="0.14" textLength="10.7" lengthAdjust="spacingAndGlyphs" transform="rotate(-90 165 335.7)" >200</text>
<line x1="143" y1="320" x2="153.5" y2="310.8" stroke="#1a1a1a" stroke-width="0.62" />
<line x1="153.5" y1="310.5" x2="196" y2="310.5" stroke="#1a1a1a" stroke-width="0.62" />
<text x="160.2" y="309.4" font-size="7" font-style="italic" text-anchor="start" fill="#1a1a1a" stroke="#1a1a1a" stroke-width="0.14" textLength="35.2" lengthAdjust="spacingAndGlyphs" >12 отв. Ø18</text>
<line x1="238.5" y1="34" x2="238.5" y2="73" stroke="#1a1a1a" stroke-width="0.6" stroke-dasharray="5,1.5,1,1.5"/>
<line x1="238.5" y1="196" x2="238.5" y2="292" stroke="#1a1a1a" stroke-width="0.6" stroke-dasharray="5,1.5,1,1.5"/>
<line x1="219.5" y1="60" x2="219.5" y2="212" stroke="#1a1a1a" stroke-width="0.7" stroke-dasharray="5,2.2"/>
<line x1="257.5" y1="60" x2="257.5" y2="212" stroke="#1a1a1a" stroke-width="0.7" stroke-dasharray="5,2.2"/>
<line x1="238.5" y1="10.3" x2="238.5" y2="26" stroke="#1a1a1a" stroke-width="1.4" />
<polygon points="238.9,33.1 236.90,23.10 240.90,23.10" fill="#1a1a1a"/>
<text x="230.8" y="22.5" font-size="8.6" font-style="italic" text-anchor="middle" fill="#1a1a1a" stroke="#1a1a1a" stroke-width="0.14" >Б</text>
<line x1="223.5" y1="37.5" x2="253.5" y2="37.5" stroke="#1a1a1a" stroke-width="1.3" />
<path d="M224.6,37.5 C226,44 232,45.6 238.9,45.6 C245.8,45.6 251.8,44 253.2,37.5" fill="none" stroke="#1a1a1a" stroke-width="1.2" />
<line x1="226.3" y1="41.3" x2="203.6" y2="47.7" stroke="#1a1a1a" stroke-width="1.2" />
<line x1="251.5" y1="41.3" x2="273" y2="47.7" stroke="#1a1a1a" stroke-width="1.2" />
<rect x="203.5" y="47.5" width="70.0" height="11.0" fill="none" stroke="#1a1a1a" stroke-width="1.2"/>
<line x1="209.5" y1="58.8" x2="209.5" y2="85" stroke="#1a1a1a" stroke-width="1.1" />
<line x1="229.5" y1="58.8" x2="229.5" y2="73" stroke="#1a1a1a" stroke-width="1.1" />
<line x1="247.5" y1="58.8" x2="247.5" y2="73" stroke="#1a1a1a" stroke-width="1.1" />
<line x1="268.5" y1="58.8" x2="268.5" y2="85" stroke="#1a1a1a" stroke-width="1.1" />
<path d="M208.4,69 L231,69 M246.6,69 L269.4,69" fill="none" stroke="#1a1a1a" stroke-width="1.6" />
<circle cx="209.3" cy="69" r="1.2" fill="#1a1a1a"/>
<circle cx="214" cy="69" r="1.2" fill="#1a1a1a"/>
<circle cx="219.3" cy="69" r="1.2" fill="#1a1a1a"/>
<circle cx="224.8" cy="69" r="1.2" fill="#1a1a1a"/>
<circle cx="229.8" cy="69" r="1.2" fill="#1a1a1a"/>
<circle cx="248" cy="69" r="1.2" fill="#1a1a1a"/>
<circle cx="253" cy="69" r="1.2" fill="#1a1a1a"/>
<circle cx="258.5" cy="69" r="1.2" fill="#1a1a1a"/>
<circle cx="263.8" cy="69" r="1.2" fill="#1a1a1a"/>
<circle cx="268.5" cy="69" r="1.2" fill="#1a1a1a"/>
<rect x="225.5" y="73.5" width="26.0" height="18.0" fill="none" stroke="#1a1a1a" stroke-width="1.2"/>
<rect x="226.5" y="74.5" width="24.0" height="16.0" fill="none" stroke="#1a1a1a" stroke-width="0.62"/>
<rect x="228.5" y="75.5" width="9.0" height="14.0" fill="none" stroke="#1a1a1a" stroke-width="1.0"/>
<rect x="240.5" y="75.5" width="9.0" height="14.0" fill="none" stroke="#1a1a1a" stroke-width="1.0"/>
<rect x="236.6" y="73.5" width="3.6" height="17.6" fill="#555"/>
<line x1="236.5" y1="73" x2="236.5" y2="91.6" stroke="#1a1a1a" stroke-width="0.9" />
<line x1="240.5" y1="73" x2="240.5" y2="91.6" stroke="#1a1a1a" stroke-width="0.9" />
<circle cx="226.6" cy="73.6" r="0.9" fill="#1a1a1a"/>
<circle cx="226.6" cy="90.9" r="0.9" fill="#1a1a1a"/>
<circle cx="231.7" cy="73.6" r="0.9" fill="#1a1a1a"/>
<circle cx="231.7" cy="90.9" r="0.9" fill="#1a1a1a"/>
<circle cx="245.9" cy="73.6" r="0.9" fill="#1a1a1a"/>
<circle cx="245.9" cy="90.9" r="0.9" fill="#1a1a1a"/>
<circle cx="250.9" cy="73.6" r="0.9" fill="#1a1a1a"/>
<circle cx="250.9" cy="90.9" r="0.9" fill="#1a1a1a"/>
<line x1="231" y1="79.5" x2="235" y2="79.5" stroke="#1a1a1a" stroke-width="0.8" />
<line x1="235.5" y1="79" x2="235.5" y2="82" stroke="#1a1a1a" stroke-width="0.8" />
<line x1="243" y1="79.5" x2="247" y2="79.5" stroke="#1a1a1a" stroke-width="0.8" />
<line x1="243.5" y1="79" x2="243.5" y2="82" stroke="#1a1a1a" stroke-width="0.8" />
<path d="M203.2,87.2 Q206,83.5 209.7,83.6 M203.2,87.2 Q212,90.5 225.5,91.3" fill="none" stroke="#1a1a1a" stroke-width="1.1" />
<path d="M273.2,87.2 Q270.5,83.5 268.1,83.6 M273.2,87.2 Q264,90.5 251.8,91.3" fill="none" stroke="#1a1a1a" stroke-width="1.1" />
<line x1="203.5" y1="87.2" x2="203.5" y2="145.5" stroke="#1a1a1a" stroke-width="1.2" />
<line x1="236.5" y1="91.6" x2="236.5" y2="145.5" stroke="#1a1a1a" stroke-width="1.2" />
<line x1="240.5" y1="91.6" x2="240.5" y2="145.5" stroke="#1a1a1a" stroke-width="1.2" />
<line x1="273.5" y1="87.2" x2="273.5" y2="145.5" stroke="#1a1a1a" stroke-width="1.2" />
<line x1="203.2" y1="145.5" x2="236.2" y2="145.5" stroke="#1a1a1a" stroke-width="1.2" />
<line x1="240.7" y1="145.5" x2="273.2" y2="145.5" stroke="#1a1a1a" stroke-width="1.2" />
<line x1="203.2" y1="138.5" x2="236.2" y2="138.5" stroke="#1a1a1a" stroke-width="0.62" />
<polygon points="203.2,138.5 207.50,137.45 207.50,139.55" fill="#1a1a1a"/>
<polygon points="236.2,138.5 231.90,139.55 231.90,137.45" fill="#1a1a1a"/>
<text x="226" y="135.8" font-size="6.6" font-style="italic" text-anchor="middle" fill="#1a1a1a" stroke="#1a1a1a" stroke-width="0.14" textLength="17.9" lengthAdjust="spacingAndGlyphs" >Ø 908</text>
<line x1="203.2" y1="145.5" x2="213.4" y2="207.6" stroke="#1a1a1a" stroke-width="1.2" />
<line x1="236.2" y1="145.5" x2="225.5" y2="207.6" stroke="#1a1a1a" stroke-width="1.2" />
<line x1="240.7" y1="145.5" x2="251.8" y2="207.6" stroke="#1a1a1a" stroke-width="1.2" />
<line x1="273.2" y1="145.5" x2="261.9" y2="207.6" stroke="#1a1a1a" stroke-width="1.2" />
<line x1="271.2" y1="145.5" x2="263.9" y2="207.6" stroke="#1a1a1a" stroke-width="1.0" />
<line x1="219.8" y1="200.5" x2="257.6" y2="200.5" stroke="#1a1a1a" stroke-width="0.62" />
<polygon points="219.8,200.7 224.10,199.65 224.10,201.75" fill="#1a1a1a"/>
<polygon points="257.6,200.7 253.30,201.75 253.30,199.65" fill="#1a1a1a"/>
<text x="239.1" y="199.5" font-size="6.6" font-style="italic" text-anchor="middle" fill="#1a1a1a" stroke="#1a1a1a" stroke-width="0.14" textLength="13" lengthAdjust="spacingAndGlyphs" >1040</text>
<rect x="203.5" y="207.5" width="72.0" height="15.0" fill="none" stroke="#1a1a1a" stroke-width="1.2"/>
<polyline points="199.6,222.2 203.3,219.5" fill="none" stroke="#1a1a1a" stroke-width="0.9" />
<polyline points="278.5,222.2 275,219.5" fill="none" stroke="#1a1a1a" stroke-width="0.9" />
<line x1="199.6" y1="222.5" x2="278.5" y2="222.5" stroke="#1a1a1a" stroke-width="1.2" />
<line x1="203.3" y1="222.2" x2="232.6" y2="280.4" stroke="#1a1a1a" stroke-width="1.2" />
<line x1="275" y1="222.2" x2="244.7" y2="280.4" stroke="#1a1a1a" stroke-width="1.2" />
<line x1="232.6" y1="280.5" x2="308" y2="280.5" stroke="#1a1a1a" stroke-width="0.7" />
<line x1="253.5" y1="37.5" x2="309" y2="37.5" stroke="#1a1a1a" stroke-width="0.62" />
<line x1="251.8" y1="82.5" x2="295.5" y2="82.5" stroke="#1a1a1a" stroke-width="0.62" />
<line x1="292.5" y1="82.5" x2="292.5" y2="280.4" stroke="#1a1a1a" stroke-width="0.65" />
<polygon points="292.3,82.5 293.35,86.80 291.25,86.80" fill="#1a1a1a"/>
<polygon points="292.3,280.4 291.25,276.10 293.35,276.10" fill="#1a1a1a"/>
<line x1="305.5" y1="37.5" x2="305.5" y2="280.4" stroke="#1a1a1a" stroke-width="0.65" />
<polygon points="305.2,37.5 306.25,41.80 304.15,41.80" fill="#1a1a1a"/>
<polygon points="305.2,280.4 304.15,276.10 306.25,276.10" fill="#1a1a1a"/>
<text x="304.3" y="158.5" font-size="8" font-style="italic" text-anchor="middle" fill="#1a1a1a" stroke="#1a1a1a" stroke-width="0.14" textLength="15.3" lengthAdjust="spacingAndGlyphs" transform="rotate(-90 304.3 158.5)" >8735</text>
<text x="290.9" y="180.2" font-size="8" font-style="italic" text-anchor="middle" fill="#1a1a1a" stroke="#1a1a1a" stroke-width="0.14" textLength="15.3" lengthAdjust="spacingAndGlyphs" transform="rotate(-90 290.9 180.2)" >5479</text>
<line x1="238.5" y1="292" x2="238.5" y2="310.2" stroke="#1a1a1a" stroke-width="1.4" />
<polygon points="238.5,287.3 240.50,297.30 236.50,297.30" fill="#1a1a1a"/>
<text x="230.8" y="304.4" font-size="8.6" font-style="italic" text-anchor="middle" fill="#1a1a1a" stroke="#1a1a1a" stroke-width="0.14" >В</text>
<text x="259" y="319" font-size="9" font-style="italic" text-anchor="middle" fill="#1a1a1a" stroke="#1a1a1a" stroke-width="0.14" textLength="34.5" lengthAdjust="spacingAndGlyphs" >В ( 1:10 )</text>
<rect x="229.5" y="336.5" width="58.0" height="58.0" fill="none" stroke="#1a1a1a" stroke-width="1.3"/>
<rect x="236.5" y="343.5" width="45.0" height="43.0" fill="none" stroke="#1a1a1a" stroke-width="1.3"/>
<line x1="226" y1="339.5" x2="291" y2="339.5" stroke="#1a1a1a" stroke-width="0.35" stroke-dasharray="4,1.2,0.8,1.2"/>
<line x1="226" y1="390.5" x2="291" y2="390.5" stroke="#1a1a1a" stroke-width="0.35" stroke-dasharray="4,1.2,0.8,1.2"/>
<line x1="233.5" y1="333" x2="233.5" y2="397" stroke="#1a1a1a" stroke-width="0.35" stroke-dasharray="4,1.2,0.8,1.2"/>
<line x1="284.5" y1="333" x2="284.5" y2="397" stroke="#1a1a1a" stroke-width="0.35" stroke-dasharray="4,1.2,0.8,1.2"/>
<circle cx="233.7" cy="339.8" r="1.45" fill="#1a1a1a"/>
<line x1="230.1" y1="339.5" x2="237.29999999999998" y2="339.5" stroke="#1a1a1a" stroke-width="0.5" />
<line x1="233.5" y1="336.2" x2="233.5" y2="343.40000000000003" stroke="#1a1a1a" stroke-width="0.5" />
<circle cx="233.7" cy="356.3" r="1.45" fill="#1a1a1a"/>
<line x1="230.1" y1="356.5" x2="237.29999999999998" y2="356.5" stroke="#1a1a1a" stroke-width="0.5" />
<line x1="233.5" y1="352.7" x2="233.5" y2="359.90000000000003" stroke="#1a1a1a" stroke-width="0.5" />
<circle cx="233.7" cy="373.4" r="1.45" fill="#1a1a1a"/>
<line x1="230.1" y1="373.5" x2="237.29999999999998" y2="373.5" stroke="#1a1a1a" stroke-width="0.5" />
<line x1="233.5" y1="369.79999999999995" x2="233.5" y2="377.0" stroke="#1a1a1a" stroke-width="0.5" />
<circle cx="233.7" cy="390.5" r="1.45" fill="#1a1a1a"/>
<line x1="230.1" y1="390.5" x2="237.29999999999998" y2="390.5" stroke="#1a1a1a" stroke-width="0.5" />
<line x1="233.5" y1="386.9" x2="233.5" y2="394.1" stroke="#1a1a1a" stroke-width="0.5" />
<circle cx="250.2" cy="339.8" r="1.45" fill="#1a1a1a"/>
<line x1="246.6" y1="339.5" x2="253.79999999999998" y2="339.5" stroke="#1a1a1a" stroke-width="0.5" />
<line x1="250.5" y1="336.2" x2="250.5" y2="343.40000000000003" stroke="#1a1a1a" stroke-width="0.5" />
<circle cx="250.2" cy="390.5" r="1.45" fill="#1a1a1a"/>
<line x1="246.6" y1="390.5" x2="253.79999999999998" y2="390.5" stroke="#1a1a1a" stroke-width="0.5" />
<line x1="250.5" y1="386.9" x2="250.5" y2="394.1" stroke="#1a1a1a" stroke-width="0.5" />
<circle cx="267.9" cy="339.8" r="1.45" fill="#1a1a1a"/>
<line x1="264.29999999999995" y1="339.5" x2="271.5" y2="339.5" stroke="#1a1a1a" stroke-width="0.5" />
<line x1="267.5" y1="336.2" x2="267.5" y2="343.40000000000003" stroke="#1a1a1a" stroke-width="0.5" />
<circle cx="267.9" cy="390.5" r="1.45" fill="#1a1a1a"/>
<line x1="264.29999999999995" y1="390.5" x2="271.5" y2="390.5" stroke="#1a1a1a" stroke-width="0.5" />
<line x1="267.5" y1="386.9" x2="267.5" y2="394.1" stroke="#1a1a1a" stroke-width="0.5" />
<circle cx="284" cy="339.8" r="1.45" fill="#1a1a1a"/>
<line x1="280.4" y1="339.5" x2="287.6" y2="339.5" stroke="#1a1a1a" stroke-width="0.5" />
<line x1="284.5" y1="336.2" x2="284.5" y2="343.40000000000003" stroke="#1a1a1a" stroke-width="0.5" />
<circle cx="284" cy="356.3" r="1.45" fill="#1a1a1a"/>
<line x1="280.4" y1="356.5" x2="287.6" y2="356.5" stroke="#1a1a1a" stroke-width="0.5" />
<line x1="284.5" y1="352.7" x2="284.5" y2="359.90000000000003" stroke="#1a1a1a" stroke-width="0.5" />
<circle cx="284" cy="373.4" r="1.45" fill="#1a1a1a"/>
<line x1="280.4" y1="373.5" x2="287.6" y2="373.5" stroke="#1a1a1a" stroke-width="0.5" />
<line x1="284.5" y1="369.79999999999995" x2="284.5" y2="377.0" stroke="#1a1a1a" stroke-width="0.5" />
<circle cx="284" cy="390.5" r="1.45" fill="#1a1a1a"/>
<line x1="280.4" y1="390.5" x2="287.6" y2="390.5" stroke="#1a1a1a" stroke-width="0.5" />
<line x1="284.5" y1="386.9" x2="284.5" y2="394.1" stroke="#1a1a1a" stroke-width="0.5" />
<line x1="205" y1="339.5" x2="229.5" y2="339.5" stroke="#1a1a1a" stroke-width="0.6" />
<line x1="205" y1="390.5" x2="229.5" y2="390.5" stroke="#1a1a1a" stroke-width="0.6" />
<line x1="219.5" y1="356.5" x2="229.5" y2="356.5" stroke="#1a1a1a" stroke-width="0.6" />
<line x1="207.5" y1="339.8" x2="207.5" y2="390.5" stroke="#1a1a1a" stroke-width="0.65" />
<polygon points="207.7,339.8 208.75,344.10 206.65,344.10" fill="#1a1a1a"/>
<polygon points="207.7,390.5 206.65,386.20 208.75,386.20" fill="#1a1a1a"/>
<line x1="222.5" y1="339.8" x2="222.5" y2="356.3" stroke="#1a1a1a" stroke-width="0.65" />
<polygon points="222,339.8 223.05,344.10 220.95,344.10" fill="#1a1a1a"/>
<polygon points="222,356.3 220.95,352.00 223.05,352.00" fill="#1a1a1a"/>
<text x="206.5" y="364.4" font-size="6.4" font-style="italic" text-anchor="middle" fill="#1a1a1a" stroke="#1a1a1a" stroke-width="0.14" textLength="30.4" lengthAdjust="spacingAndGlyphs" transform="rotate(-90 206.5 364.4)" >3x117=350</text>
<text x="220.8" y="349.5" font-size="6.4" font-style="italic" text-anchor="middle" fill="#1a1a1a" stroke="#1a1a1a" stroke-width="0.14" textLength="7.5" lengthAdjust="spacingAndGlyphs" transform="rotate(-90 220.8 349.5)" >117</text>
<line x1="233.5" y1="394" x2="233.5" y2="420" stroke="#1a1a1a" stroke-width="0.6" />
<line x1="250.5" y1="394" x2="250.5" y2="407" stroke="#1a1a1a" stroke-width="0.6" />
<line x1="284.5" y1="394" x2="284.5" y2="420" stroke="#1a1a1a" stroke-width="0.6" />
<line x1="233.7" y1="404.5" x2="250.2" y2="404.5" stroke="#1a1a1a" stroke-width="0.65" />
<polygon points="233.7,404.5 238.00,403.45 238.00,405.55" fill="#1a1a1a"/>
<polygon points="250.2,404.5 245.90,405.55 245.90,403.45" fill="#1a1a1a"/>
<line x1="233.7" y1="417.5" x2="284" y2="417.5" stroke="#1a1a1a" stroke-width="0.65" />
<polygon points="233.7,417.6 238.00,416.55 238.00,418.65" fill="#1a1a1a"/>
<polygon points="284,417.6 279.70,418.65 279.70,416.55" fill="#1a1a1a"/>
<text x="242" y="402.8" font-size="5.4" font-style="italic" text-anchor="middle" fill="#1a1a1a" stroke="#1a1a1a" stroke-width="0.14" >117</text>
<text x="259.3" y="415.9" font-size="5.4" font-style="italic" text-anchor="middle" fill="#1a1a1a" stroke="#1a1a1a" stroke-width="0.14" textLength="30" lengthAdjust="spacingAndGlyphs" >3x117=350</text>
<line x1="281.3" y1="343.5" x2="306.5" y2="343.5" stroke="#1a1a1a" stroke-width="0.6" />
<line x1="281.3" y1="386.5" x2="306.5" y2="386.5" stroke="#1a1a1a" stroke-width="0.6" />
<line x1="304.5" y1="343.3" x2="304.5" y2="386.7" stroke="#1a1a1a" stroke-width="0.65" />
<polygon points="304,343.3 305.05,347.60 302.95,347.60" fill="#1a1a1a"/>
<polygon points="304,386.7 302.95,382.40 305.05,382.40" fill="#1a1a1a"/>
<text x="302.2" y="365" font-size="5.6" font-style="italic" text-anchor="middle" fill="#1a1a1a" stroke="#1a1a1a" stroke-width="0.14" transform="rotate(-90 302.2 365)" >□300</text>
<line x1="287.2" y1="336.5" x2="322" y2="336.5" stroke="#1a1a1a" stroke-width="0.6" />
<line x1="287.2" y1="394.5" x2="322" y2="394.5" stroke="#1a1a1a" stroke-width="0.6" />
<line x1="319.5" y1="336.4" x2="319.5" y2="394" stroke="#1a1a1a" stroke-width="0.65" />
<polygon points="319.3,336.4 320.35,340.70 318.25,340.70" fill="#1a1a1a"/>
<polygon points="319.3,394 318.25,389.70 320.35,389.70" fill="#1a1a1a"/>
<text x="317.4" y="365" font-size="5.6" font-style="italic" text-anchor="middle" fill="#1a1a1a" stroke="#1a1a1a" stroke-width="0.14" transform="rotate(-90 317.4 365)" >□400</text>
<line x1="281.2" y1="346" x2="290.5" y2="325.5" stroke="#1a1a1a" stroke-width="0.62" />
<line x1="290.5" y1="325.5" x2="337" y2="325.5" stroke="#1a1a1a" stroke-width="0.62" />
<text x="298.8" y="323.7" font-size="7" font-style="italic" text-anchor="start" fill="#1a1a1a" stroke="#1a1a1a" stroke-width="0.14" textLength="36.5" lengthAdjust="spacingAndGlyphs" >12 отв. Ø14</text>
<text x="423.6" y="20.3" font-size="9" font-style="italic" text-anchor="middle" fill="#1a1a1a" stroke="#1a1a1a" stroke-width="0.14" textLength="35" lengthAdjust="spacingAndGlyphs" >А ( 1:10 )</text>
<rect x="373.5" y="55.5" width="49.0" height="77.0" fill="none" stroke="#1a1a1a" stroke-width="1.3"/>
<rect x="380.5" y="62.5" width="35.0" height="62.0" fill="none" stroke="#1a1a1a" stroke-width="1.3"/>
<circle cx="376.7" cy="58.6" r="1.45" fill="#1a1a1a"/>
<line x1="373.09999999999997" y1="58.5" x2="380.3" y2="58.5" stroke="#1a1a1a" stroke-width="0.5" />
<line x1="376.5" y1="55.0" x2="376.5" y2="62.2" stroke="#1a1a1a" stroke-width="0.5" />
<circle cx="397.6" cy="58.6" r="1.45" fill="#1a1a1a"/>
<line x1="394.0" y1="58.5" x2="401.20000000000005" y2="58.5" stroke="#1a1a1a" stroke-width="0.5" />
<line x1="397.5" y1="55.0" x2="397.5" y2="62.2" stroke="#1a1a1a" stroke-width="0.5" />
<circle cx="419.2" cy="58.6" r="1.45" fill="#1a1a1a"/>
<line x1="415.59999999999997" y1="58.5" x2="422.8" y2="58.5" stroke="#1a1a1a" stroke-width="0.5" />
<line x1="419.5" y1="55.0" x2="419.5" y2="62.2" stroke="#1a1a1a" stroke-width="0.5" />
<circle cx="376.7" cy="129.4" r="1.45" fill="#1a1a1a"/>
<line x1="373.09999999999997" y1="129.5" x2="380.3" y2="129.5" stroke="#1a1a1a" stroke-width="0.5" />
<line x1="376.5" y1="125.80000000000001" x2="376.5" y2="133.0" stroke="#1a1a1a" stroke-width="0.5" />
<circle cx="397.6" cy="129.4" r="1.45" fill="#1a1a1a"/>
<line x1="394.0" y1="129.5" x2="401.20000000000005" y2="129.5" stroke="#1a1a1a" stroke-width="0.5" />
<line x1="397.5" y1="125.80000000000001" x2="397.5" y2="133.0" stroke="#1a1a1a" stroke-width="0.5" />
<circle cx="419.2" cy="129.4" r="1.45" fill="#1a1a1a"/>
<line x1="415.59999999999997" y1="129.5" x2="422.8" y2="129.5" stroke="#1a1a1a" stroke-width="0.5" />
<line x1="419.5" y1="125.80000000000001" x2="419.5" y2="133.0" stroke="#1a1a1a" stroke-width="0.5" />
<circle cx="376.7" cy="94.3" r="1.45" fill="#1a1a1a"/>
<line x1="373.09999999999997" y1="94.5" x2="380.3" y2="94.5" stroke="#1a1a1a" stroke-width="0.5" />
<line x1="376.5" y1="90.7" x2="376.5" y2="97.89999999999999" stroke="#1a1a1a" stroke-width="0.5" />
<circle cx="419.2" cy="94.3" r="1.45" fill="#1a1a1a"/>
<line x1="415.59999999999997" y1="94.5" x2="422.8" y2="94.5" stroke="#1a1a1a" stroke-width="0.5" />
<line x1="419.5" y1="90.7" x2="419.5" y2="97.89999999999999" stroke="#1a1a1a" stroke-width="0.5" />
<rect x="427.5" y="55.5" width="49.0" height="77.0" fill="none" stroke="#1a1a1a" stroke-width="1.3"/>
<rect x="434.5" y="62.5" width="35.0" height="62.0" fill="none" stroke="#1a1a1a" stroke-width="1.3"/>
<circle cx="430.9" cy="58.6" r="1.45" fill="#1a1a1a"/>
<line x1="427.29999999999995" y1="58.5" x2="434.5" y2="58.5" stroke="#1a1a1a" stroke-width="0.5" />
<line x1="430.5" y1="55.0" x2="430.5" y2="62.2" stroke="#1a1a1a" stroke-width="0.5" />
<circle cx="452.2" cy="58.6" r="1.45" fill="#1a1a1a"/>
<line x1="448.59999999999997" y1="58.5" x2="455.8" y2="58.5" stroke="#1a1a1a" stroke-width="0.5" />
<line x1="452.5" y1="55.0" x2="452.5" y2="62.2" stroke="#1a1a1a" stroke-width="0.5" />
<circle cx="473.3" cy="58.6" r="1.45" fill="#1a1a1a"/>
<line x1="469.7" y1="58.5" x2="476.90000000000003" y2="58.5" stroke="#1a1a1a" stroke-width="0.5" />
<line x1="473.5" y1="55.0" x2="473.5" y2="62.2" stroke="#1a1a1a" stroke-width="0.5" />
<circle cx="430.9" cy="129.4" r="1.45" fill="#1a1a1a"/>
<line x1="427.29999999999995" y1="129.5" x2="434.5" y2="129.5" stroke="#1a1a1a" stroke-width="0.5" />
<line x1="430.5" y1="125.80000000000001" x2="430.5" y2="133.0" stroke="#1a1a1a" stroke-width="0.5" />
<circle cx="452.2" cy="129.4" r="1.45" fill="#1a1a1a"/>
<line x1="448.59999999999997" y1="129.5" x2="455.8" y2="129.5" stroke="#1a1a1a" stroke-width="0.5" />
<line x1="452.5" y1="125.80000000000001" x2="452.5" y2="133.0" stroke="#1a1a1a" stroke-width="0.5" />
<circle cx="473.3" cy="129.4" r="1.45" fill="#1a1a1a"/>
<line x1="469.7" y1="129.5" x2="476.90000000000003" y2="129.5" stroke="#1a1a1a" stroke-width="0.5" />
<line x1="473.5" y1="125.80000000000001" x2="473.5" y2="133.0" stroke="#1a1a1a" stroke-width="0.5" />
<circle cx="430.9" cy="94.3" r="1.45" fill="#1a1a1a"/>
<line x1="427.29999999999995" y1="94.5" x2="434.5" y2="94.5" stroke="#1a1a1a" stroke-width="0.5" />
<line x1="430.5" y1="90.7" x2="430.5" y2="97.89999999999999" stroke="#1a1a1a" stroke-width="0.5" />
<circle cx="473.3" cy="94.3" r="1.45" fill="#1a1a1a"/>
<line x1="469.7" y1="94.5" x2="476.90000000000003" y2="94.5" stroke="#1a1a1a" stroke-width="0.5" />
<line x1="473.5" y1="90.7" x2="473.5" y2="97.89999999999999" stroke="#1a1a1a" stroke-width="0.5" />
<line x1="376.5" y1="33" x2="376.5" y2="56" stroke="#1a1a1a" stroke-width="0.6" />
<line x1="419.5" y1="33" x2="419.5" y2="56" stroke="#1a1a1a" stroke-width="0.6" />
<line x1="397.5" y1="45.5" x2="397.5" y2="56" stroke="#1a1a1a" stroke-width="0.6" />
<line x1="376.7" y1="36.5" x2="419.2" y2="36.5" stroke="#1a1a1a" stroke-width="0.65" />
<polygon points="376.7,36.3 381.00,35.25 381.00,37.35" fill="#1a1a1a"/>
<polygon points="419.2,36.3 414.90,37.35 414.90,35.25" fill="#1a1a1a"/>
<line x1="376.7" y1="48.5" x2="397.6" y2="48.5" stroke="#1a1a1a" stroke-width="0.65" />
<polygon points="376.7,48.5 381.00,47.45 381.00,49.55" fill="#1a1a1a"/>
<polygon points="397.6,48.5 393.30,49.55 393.30,47.45" fill="#1a1a1a"/>
<text x="398.25" y="34.9" font-size="6.2" font-style="italic" text-anchor="middle" fill="#1a1a1a" stroke="#1a1a1a" stroke-width="0.14" textLength="32" lengthAdjust="spacingAndGlyphs" >2x148=295</text>
<text x="387.75" y="47.3" font-size="6.2" font-style="italic" text-anchor="middle" fill="#1a1a1a" stroke="#1a1a1a" stroke-width="0.14" textLength="10.5" lengthAdjust="spacingAndGlyphs" >148</text>
<line x1="430.5" y1="33" x2="430.5" y2="56" stroke="#1a1a1a" stroke-width="0.6" />
<line x1="473.5" y1="33" x2="473.5" y2="56" stroke="#1a1a1a" stroke-width="0.6" />
<line x1="452.5" y1="45.5" x2="452.5" y2="56" stroke="#1a1a1a" stroke-width="0.6" />
<line x1="430.9" y1="36.5" x2="473.3" y2="36.5" stroke="#1a1a1a" stroke-width="0.65" />
<polygon points="430.9,36.3 435.20,35.25 435.20,37.35" fill="#1a1a1a"/>
<polygon points="473.3,36.3 469.00,37.35 469.00,35.25" fill="#1a1a1a"/>
<line x1="430.9" y1="48.5" x2="452.2" y2="48.5" stroke="#1a1a1a" stroke-width="0.65" />
<polygon points="430.9,48.5 435.20,47.45 435.20,49.55" fill="#1a1a1a"/>
<polygon points="452.2,48.5 447.90,49.55 447.90,47.45" fill="#1a1a1a"/>
<text x="452.40000000000003" y="34.9" font-size="6.2" font-style="italic" text-anchor="middle" fill="#1a1a1a" stroke="#1a1a1a" stroke-width="0.14" textLength="32" lengthAdjust="spacingAndGlyphs" >2x148=295</text>
<text x="442.15" y="47.3" font-size="6.2" font-style="italic" text-anchor="middle" fill="#1a1a1a" stroke="#1a1a1a" stroke-width="0.14" textLength="10.5" lengthAdjust="spacingAndGlyphs" >148</text>
<line x1="349" y1="58.5" x2="373.5" y2="58.5" stroke="#1a1a1a" stroke-width="0.6" />
<line x1="349" y1="129.5" x2="373.5" y2="129.5" stroke="#1a1a1a" stroke-width="0.6" />
<line x1="362" y1="94.5" x2="373.5" y2="94.5" stroke="#1a1a1a" stroke-width="0.6" />
<line x1="350.5" y1="58.6" x2="350.5" y2="129.4" stroke="#1a1a1a" stroke-width="0.65" />
<polygon points="350.6,58.6 351.65,62.90 349.55,62.90" fill="#1a1a1a"/>
<polygon points="350.6,129.4 349.55,125.10 351.65,125.10" fill="#1a1a1a"/>
<line x1="364.5" y1="58.6" x2="364.5" y2="94.3" stroke="#1a1a1a" stroke-width="0.65" />
<polygon points="364.8,58.6 365.85,62.90 363.75,62.90" fill="#1a1a1a"/>
<polygon points="364.8,94.3 363.75,90.00 365.85,90.00" fill="#1a1a1a"/>
<text x="349" y="95" font-size="6.4" font-style="italic" text-anchor="middle" fill="#1a1a1a" stroke="#1a1a1a" stroke-width="0.14" textLength="30.7" lengthAdjust="spacingAndGlyphs" transform="rotate(-90 349 95)" >2x245=490</text>
<text x="362.9" y="70.8" font-size="6.4" font-style="italic" text-anchor="middle" fill="#1a1a1a" stroke="#1a1a1a" stroke-width="0.14" textLength="11.8" lengthAdjust="spacingAndGlyphs" transform="rotate(-90 362.9 70.8)" >245</text>
<line x1="380.5" y1="124.8" x2="380.5" y2="149" stroke="#1a1a1a" stroke-width="0.6" />
<line x1="415.5" y1="124.8" x2="415.5" y2="149" stroke="#1a1a1a" stroke-width="0.6" />
<line x1="373.5" y1="132.1" x2="373.5" y2="161.5" stroke="#1a1a1a" stroke-width="0.6" />
<line x1="422.5" y1="132.1" x2="422.5" y2="161.5" stroke="#1a1a1a" stroke-width="0.6" />
<line x1="380.6" y1="146.5" x2="415.4" y2="146.5" stroke="#1a1a1a" stroke-width="0.65" />
<polygon points="380.6,146.5 384.90,145.45 384.90,147.55" fill="#1a1a1a"/>
<polygon points="415.4,146.5 411.10,147.55 411.10,145.45" fill="#1a1a1a"/>
<line x1="373.5" y1="159.5" x2="422.5" y2="159.5" stroke="#1a1a1a" stroke-width="0.65" />
<polygon points="373.5,159.2 377.80,158.15 377.80,160.25" fill="#1a1a1a"/>
<polygon points="422.5,159.2 418.20,160.25 418.20,158.15" fill="#1a1a1a"/>
<text x="392.7" y="144.8" font-size="6.6" font-style="italic" text-anchor="middle" fill="#1a1a1a" stroke="#1a1a1a" stroke-width="0.14" textLength="10.8" lengthAdjust="spacingAndGlyphs" >235</text>
<text x="403.0" y="157.6" font-size="6.6" font-style="italic" text-anchor="middle" fill="#1a1a1a" stroke="#1a1a1a" stroke-width="0.14" textLength="10.5" lengthAdjust="spacingAndGlyphs" >335</text>
<line x1="434.5" y1="124.8" x2="434.5" y2="149" stroke="#1a1a1a" stroke-width="0.6" />
<line x1="469.5" y1="124.8" x2="469.5" y2="149" stroke="#1a1a1a" stroke-width="0.6" />
<line x1="427.5" y1="132.1" x2="427.5" y2="161.5" stroke="#1a1a1a" stroke-width="0.6" />
<line x1="476.5" y1="132.1" x2="476.5" y2="161.5" stroke="#1a1a1a" stroke-width="0.6" />
<line x1="434.9" y1="146.5" x2="469.4" y2="146.5" stroke="#1a1a1a" stroke-width="0.65" />
<polygon points="434.9,146.5 439.20,145.45 439.20,147.55" fill="#1a1a1a"/>
<polygon points="469.4,146.5 465.10,147.55 465.10,145.45" fill="#1a1a1a"/>
<line x1="427.5" y1="159.5" x2="476.3" y2="159.5" stroke="#1a1a1a" stroke-width="0.65" />
<polygon points="427.5,159.2 431.80,158.15 431.80,160.25" fill="#1a1a1a"/>
<polygon points="476.3,159.2 472.00,160.25 472.00,158.15" fill="#1a1a1a"/>
<text x="446.84999999999997" y="144.8" font-size="6.6" font-style="italic" text-anchor="middle" fill="#1a1a1a" stroke="#1a1a1a" stroke-width="0.14" textLength="10.8" lengthAdjust="spacingAndGlyphs" >235</text>
<text x="456.9" y="157.6" font-size="6.6" font-style="italic" text-anchor="middle" fill="#1a1a1a" stroke="#1a1a1a" stroke-width="0.14" textLength="10.5" lengthAdjust="spacingAndGlyphs" >335</text>
<line x1="476.5" y1="161" x2="476.5" y2="174" stroke="#1a1a1a" stroke-width="0.6" />
<line x1="373.5" y1="161" x2="373.5" y2="174" stroke="#1a1a1a" stroke-width="0.6" />
<line x1="373.5" y1="171.5" x2="476.3" y2="171.5" stroke="#1a1a1a" stroke-width="0.65" />
<polygon points="373.5,171.4 377.80,170.35 377.80,172.45" fill="#1a1a1a"/>
<polygon points="476.3,171.4 472.00,172.45 472.00,170.35" fill="#1a1a1a"/>
<text x="425.9" y="170" font-size="6.6" font-style="italic" text-anchor="middle" fill="#1a1a1a" stroke="#1a1a1a" stroke-width="0.14" textLength="10.2" lengthAdjust="spacingAndGlyphs" >710</text>
<line x1="469.4" y1="62.5" x2="494" y2="62.5" stroke="#1a1a1a" stroke-width="0.6" />
<line x1="476.3" y1="55.5" x2="506" y2="55.5" stroke="#1a1a1a" stroke-width="0.6" />
<line x1="469.4" y1="124.5" x2="494" y2="124.5" stroke="#1a1a1a" stroke-width="0.6" />
<line x1="476.3" y1="132.5" x2="506" y2="132.5" stroke="#1a1a1a" stroke-width="0.6" />
<line x1="491.5" y1="62.8" x2="491.5" y2="124.8" stroke="#1a1a1a" stroke-width="0.65" />
<polygon points="491.7,62.8 492.75,67.10 490.65,67.10" fill="#1a1a1a"/>
<polygon points="491.7,124.8 490.65,120.50 492.75,120.50" fill="#1a1a1a"/>
<line x1="503.5" y1="55.8" x2="503.5" y2="132.1" stroke="#1a1a1a" stroke-width="0.65" />
<polygon points="503.4,55.8 504.45,60.10 502.35,60.10" fill="#1a1a1a"/>
<polygon points="503.4,132.1 502.35,127.80 504.45,127.80" fill="#1a1a1a"/>
<text x="490.2" y="96.7" font-size="6.4" font-style="italic" text-anchor="middle" fill="#1a1a1a" stroke="#1a1a1a" stroke-width="0.14" transform="rotate(-90 490.2 96.7)" >430</text>
<text x="501.9" y="90.7" font-size="6.4" font-style="italic" text-anchor="middle" fill="#1a1a1a" stroke="#1a1a1a" stroke-width="0.14" transform="rotate(-90 501.9 90.7)" >530</text>
<line x1="467.8" y1="68.8" x2="482" y2="43.6" stroke="#1a1a1a" stroke-width="0.62" />
<line x1="482" y1="43.5" x2="526.5" y2="43.5" stroke="#1a1a1a" stroke-width="0.62" />
<text x="489.7" y="41.7" font-size="7" font-style="italic" text-anchor="start" fill="#1a1a1a" stroke="#1a1a1a" stroke-width="0.14" textLength="35.7" lengthAdjust="spacingAndGlyphs" >16 отв. Ø14</text>
<circle cx="411.4" cy="252.7" r="59.2" fill="none" stroke="#1a1a1a" stroke-width="1.3" />
<circle cx="411.4" cy="252.7" r="51.8" fill="none" stroke="#1a1a1a" stroke-width="1.3" />
<circle cx="411.4" cy="252.7" r="55.7" fill="none" stroke="#1a1a1a" stroke-width="0.45" stroke-dasharray="5,1.5"/>
<circle cx="411.4" cy="197.0" r="1.3" fill="#1a1a1a"/>
<line x1="409.2" y1="197.5" x2="413.6" y2="197.5" stroke="#1a1a1a" stroke-width="0.35" />
<circle cx="432.72" cy="201.24" r="1.3" fill="#1a1a1a"/>
<line x1="430.68" y1="200.4" x2="434.75" y2="202.08" stroke="#1a1a1a" stroke-width="0.35" />
<circle cx="450.79" cy="213.31" r="1.3" fill="#1a1a1a"/>
<line x1="449.23" y1="211.76" x2="452.34" y2="214.87" stroke="#1a1a1a" stroke-width="0.35" />
<circle cx="462.86" cy="231.38" r="1.3" fill="#1a1a1a"/>
<line x1="462.02" y1="229.35" x2="463.7" y2="233.42" stroke="#1a1a1a" stroke-width="0.35" />
<circle cx="467.1" cy="252.7" r="1.3" fill="#1a1a1a"/>
<line x1="467.5" y1="250.5" x2="467.5" y2="254.9" stroke="#1a1a1a" stroke-width="0.35" />
<circle cx="462.86" cy="274.02" r="1.3" fill="#1a1a1a"/>
<line x1="463.7" y1="271.98" x2="462.02" y2="276.05" stroke="#1a1a1a" stroke-width="0.35" />
<circle cx="450.79" cy="292.09" r="1.3" fill="#1a1a1a"/>
<line x1="452.34" y1="290.53" x2="449.23" y2="293.64" stroke="#1a1a1a" stroke-width="0.35" />
<circle cx="432.72" cy="304.16" r="1.3" fill="#1a1a1a"/>
<line x1="434.75" y1="303.32" x2="430.68" y2="305.0" stroke="#1a1a1a" stroke-width="0.35" />
<circle cx="411.4" cy="308.4" r="1.3" fill="#1a1a1a"/>
<line x1="413.6" y1="308.5" x2="409.2" y2="308.5" stroke="#1a1a1a" stroke-width="0.35" />
<circle cx="390.08" cy="304.16" r="1.3" fill="#1a1a1a"/>
<line x1="392.12" y1="305.0" x2="388.05" y2="303.32" stroke="#1a1a1a" stroke-width="0.35" />
<circle cx="372.01" cy="292.09" r="1.3" fill="#1a1a1a"/>
<line x1="373.57" y1="293.64" x2="370.46" y2="290.53" stroke="#1a1a1a" stroke-width="0.35" />
<circle cx="359.94" cy="274.02" r="1.3" fill="#1a1a1a"/>
<line x1="360.78" y1="276.05" x2="359.1" y2="271.98" stroke="#1a1a1a" stroke-width="0.35" />
<circle cx="355.7" cy="252.7" r="1.3" fill="#1a1a1a"/>
<line x1="355.5" y1="254.9" x2="355.5" y2="250.5" stroke="#1a1a1a" stroke-width="0.35" />
<circle cx="359.94" cy="231.38" r="1.3" fill="#1a1a1a"/>
<line x1="359.1" y1="233.42" x2="360.78" y2="229.35" stroke="#1a1a1a" stroke-width="0.35" />
<circle cx="372.01" cy="213.31" r="1.3" fill="#1a1a1a"/>
<line x1="370.46" y1="214.87" x2="373.57" y2="211.76" stroke="#1a1a1a" stroke-width="0.35" />
<circle cx="390.08" cy="201.24" r="1.3" fill="#1a1a1a"/>
<line x1="388.05" y1="202.08" x2="392.12" y2="200.4" stroke="#1a1a1a" stroke-width="0.35" />
<line x1="348.4" y1="252.5" x2="474.3" y2="252.5" stroke="#1a1a1a" stroke-width="0.62" />
<line x1="411.5" y1="189" x2="411.5" y2="315.5" stroke="#1a1a1a" stroke-width="0.62" />
<text x="411.8" y="186.9" font-size="8.6" font-style="italic" text-anchor="middle" fill="#1a1a1a" stroke="#1a1a1a" stroke-width="0.14" textLength="34" lengthAdjust="spacingAndGlyphs" >Б ( 1:10 )</text>
<line x1="323" y1="216.5" x2="347.5" y2="216.5" stroke="#1a1a1a" stroke-width="0.62" />
<line x1="347.5" y1="216.4" x2="459.69" y2="280.47" stroke="#1a1a1a" stroke-width="0.62" />
<polygon points="360.08,223.19 355.83,221.96 356.88,220.14" fill="#1a1a1a"/>
<polygon points="459.69,280.47 455.44,279.24 456.49,277.42" fill="#1a1a1a"/>
<text x="333.3" y="214.3" font-size="7.2" font-style="italic" text-anchor="middle" fill="#1a1a1a" stroke="#1a1a1a" stroke-width="0.14" textLength="16.7" lengthAdjust="spacingAndGlyphs" >Ø820</text>
<line x1="358.43" y1="235.49" x2="466.09" y2="270.47" stroke="#1a1a1a" stroke-width="0.62" />
<polygon points="358.43,235.49 362.84,235.82 362.20,237.82" fill="#1a1a1a"/>
<line x1="466.09" y1="270.47" x2="469" y2="271.6" stroke="#1a1a1a" stroke-width="0.62" />
<line x1="469" y1="271.5" x2="496.5" y2="271.5" stroke="#1a1a1a" stroke-width="0.62" />
<text x="488" y="269.6" font-size="7.2" font-style="italic" text-anchor="middle" fill="#1a1a1a" stroke="#1a1a1a" stroke-width="0.14" textLength="17" lengthAdjust="spacingAndGlyphs" >Ø820</text>
<line x1="461.77" y1="240.61" x2="361.03" y2="264.79" stroke="#1a1a1a" stroke-width="0.62" />
<polygon points="461.77,240.61 457.83,242.63 457.34,240.59" fill="#1a1a1a"/>
<polygon points="361.03,264.79 364.97,262.77 365.46,264.81" fill="#1a1a1a"/>
<line x1="361.03" y1="264.79" x2="352.2" y2="267.2" stroke="#1a1a1a" stroke-width="0.62" />
<line x1="326" y1="267.5" x2="352.2" y2="267.5" stroke="#1a1a1a" stroke-width="0.62" />
<text x="336.7" y="265.2" font-size="7.2" font-style="italic" text-anchor="middle" fill="#1a1a1a" stroke="#1a1a1a" stroke-width="0.14" textLength="16.2" lengthAdjust="spacingAndGlyphs" >Ø720</text>
<line x1="445.6" y1="222" x2="460" y2="197.6" stroke="#1a1a1a" stroke-width="0.62" />
<line x1="460" y1="197.5" x2="504.6" y2="197.5" stroke="#1a1a1a" stroke-width="0.62" />
<text x="468" y="195.6" font-size="7" font-style="italic" text-anchor="start" fill="#1a1a1a" stroke="#1a1a1a" stroke-width="0.14" textLength="35.5" lengthAdjust="spacingAndGlyphs" >16 отв. Ø14</text>
<text x="352.7" y="327.8" font-size="6.9" font-style="italic" fill="#2a2a2a" textLength="193.5" lengthAdjust="spacing">1. Все размеры для справок, допустимые отклонения ±100мм.</text>
<text x="352.7" y="336.7" font-size="6.9" font-style="italic" fill="#2a2a2a" textLength="146" lengthAdjust="spacing">2. Циклон поставляется в разобранном виде.</text>
<line x1="350.2" y1="342.5" x2="618.5" y2="342.5" stroke="#1a1a1a" stroke-width="1.45" />
<line x1="350.5" y1="342.7" x2="350.5" y2="421.5" stroke="#1a1a1a" stroke-width="1.45" />
<line x1="375.5" y1="342.7" x2="375.5" y2="421.5" stroke="#1a1a1a" stroke-width="1.45" />
<line x1="408.5" y1="342.7" x2="408.5" y2="421.5" stroke="#1a1a1a" stroke-width="1.45" />
<line x1="430.5" y1="342.7" x2="430.5" y2="421.5" stroke="#1a1a1a" stroke-width="1.45" />
<line x1="444.5" y1="342.7" x2="444.5" y2="421.5" stroke="#1a1a1a" stroke-width="1.45" />
<line x1="361.5" y1="342.7" x2="361.5" y2="378.3" stroke="#1a1a1a" stroke-width="1.45" />
<line x1="350.2" y1="349.5" x2="444.6" y2="349.5" stroke="#1a1a1a" stroke-width="0.9" />
<line x1="350.2" y1="356.5" x2="444.6" y2="356.5" stroke="#1a1a1a" stroke-width="0.9" />
<line x1="350.2" y1="364.5" x2="444.6" y2="364.5" stroke="#1a1a1a" stroke-width="0.9" />
<line x1="350.2" y1="371.5" x2="444.6" y2="371.5" stroke="#1a1a1a" stroke-width="1.45" />
<line x1="350.2" y1="378.5" x2="444.6" y2="378.5" stroke="#1a1a1a" stroke-width="1.45" />
<line x1="350.2" y1="385.5" x2="444.6" y2="385.5" stroke="#1a1a1a" stroke-width="0.9" />
<line x1="350.2" y1="392.5" x2="444.6" y2="392.5" stroke="#1a1a1a" stroke-width="0.9" />
<line x1="350.2" y1="399.5" x2="444.6" y2="399.5" stroke="#1a1a1a" stroke-width="0.9" />
<line x1="350.2" y1="407.5" x2="444.6" y2="407.5" stroke="#1a1a1a" stroke-width="0.9" />
<line x1="350.2" y1="414.5" x2="444.6" y2="414.5" stroke="#1a1a1a" stroke-width="0.9" />
<text x="355.8" y="376.5" font-size="5.6" font-style="italic" text-anchor="middle" fill="#1a1a1a" stroke="#1a1a1a" stroke-width="0.14" textLength="9.5" lengthAdjust="spacingAndGlyphs" >Изм.</text>
<text x="368.1" y="376.5" font-size="5.6" font-style="italic" text-anchor="middle" fill="#1a1a1a" stroke="#1a1a1a" stroke-width="0.14" textLength="12" lengthAdjust="spacingAndGlyphs" >Лист</text>
<text x="392" y="376.5" font-size="5.6" font-style="italic" text-anchor="middle" fill="#1a1a1a" stroke="#1a1a1a" stroke-width="0.14" textLength="22" lengthAdjust="spacingAndGlyphs" >№ докум.</text>
<text x="419.9" y="376.5" font-size="5.6" font-style="italic" text-anchor="middle" fill="#1a1a1a" stroke="#1a1a1a" stroke-width="0.14" textLength="13" lengthAdjust="spacingAndGlyphs" >Подп.</text>
<text x="437.7" y="376.5" font-size="5.6" font-style="italic" text-anchor="middle" fill="#1a1a1a" stroke="#1a1a1a" stroke-width="0.14" textLength="11" lengthAdjust="spacingAndGlyphs" >Дата</text>
<text x="351.4" y="383.8" font-size="5.6" font-style="italic" text-anchor="start" fill="#1a1a1a" stroke="#1a1a1a" stroke-width="0.14" textLength="18" lengthAdjust="spacingAndGlyphs" >Разраб.</text>
<text x="351.4" y="391" font-size="5.6" font-style="italic" text-anchor="start" fill="#1a1a1a" stroke="#1a1a1a" stroke-width="0.14" textLength="13" lengthAdjust="spacingAndGlyphs" >Пров.</text>
<text x="351.4" y="398.3" font-size="5.6" font-style="italic" text-anchor="start" fill="#1a1a1a" stroke="#1a1a1a" stroke-width="0.14" textLength="21" lengthAdjust="spacingAndGlyphs" >Т. контр.</text>
<text x="351.4" y="405.7" font-size="5.6" font-style="italic" text-anchor="start" fill="#1a1a1a" stroke="#1a1a1a" stroke-width="0.14" textLength="19" lengthAdjust="spacingAndGlyphs" >Нач.отд.</text>
<text x="351.4" y="412.9" font-size="5.6" font-style="italic" text-anchor="start" fill="#1a1a1a" stroke="#1a1a1a" stroke-width="0.14" textLength="21" lengthAdjust="spacingAndGlyphs" >Н. контр.</text>
<text x="351.4" y="420.1" font-size="5.6" font-style="italic" text-anchor="start" fill="#1a1a1a" stroke="#1a1a1a" stroke-width="0.14" textLength="10" lengthAdjust="spacingAndGlyphs" >Утв.</text>
<line x1="444.6" y1="364.5" x2="618.5" y2="364.5" stroke="#1a1a1a" stroke-width="1.45" />
<line x1="444.6" y1="399.5" x2="618.5" y2="399.5" stroke="#1a1a1a" stroke-width="1.45" />
<line x1="546.5" y1="364.1" x2="546.5" y2="421.5" stroke="#1a1a1a" stroke-width="1.45" />
<line x1="546.2" y1="371.5" x2="618.5" y2="371.5" stroke="#1a1a1a" stroke-width="1.45" />
<line x1="546.2" y1="392.5" x2="618.5" y2="392.5" stroke="#1a1a1a" stroke-width="1.45" />
<line x1="567.5" y1="364.1" x2="567.5" y2="392.6" stroke="#1a1a1a" stroke-width="1.45" />
<line x1="592.5" y1="364.1" x2="592.5" y2="392.6" stroke="#1a1a1a" stroke-width="1.45" />
<line x1="553.5" y1="371.1" x2="553.5" y2="392.6" stroke="#1a1a1a" stroke-width="0.9" />
<line x1="560.5" y1="371.1" x2="560.5" y2="392.6" stroke="#1a1a1a" stroke-width="0.9" />
<line x1="575.5" y1="392.6" x2="575.5" y2="399.9" stroke="#1a1a1a" stroke-width="1.45" />
<text x="558.4" y="369.9" font-size="5.6" font-style="italic" text-anchor="middle" fill="#1a1a1a" stroke="#1a1a1a" stroke-width="0.14" textLength="11.5" lengthAdjust="spacingAndGlyphs" >Лит.</text>
<text x="580" y="369.9" font-size="5.6" font-style="italic" text-anchor="middle" fill="#1a1a1a" stroke="#1a1a1a" stroke-width="0.14" textLength="14" lengthAdjust="spacingAndGlyphs" >Масса</text>
<text x="605.5" y="369.9" font-size="5.6" font-style="italic" text-anchor="middle" fill="#1a1a1a" stroke="#1a1a1a" stroke-width="0.14" textLength="21" lengthAdjust="spacingAndGlyphs" >Масштаб</text>
<text x="580.2" y="384.5" font-size="7.4" font-style="italic" text-anchor="middle" fill="#1a1a1a" stroke="#1a1a1a" stroke-width="0.14" textLength="13.5" lengthAdjust="spacingAndGlyphs" >1136,8</text>
<text x="605.8" y="384.5" font-size="7.4" font-style="italic" text-anchor="middle" fill="#1a1a1a" stroke="#1a1a1a" stroke-width="0.14" textLength="12.3" lengthAdjust="spacingAndGlyphs" >1:40</text>
<text x="553.8" y="398.9" font-size="5.6" font-style="italic" text-anchor="middle" fill="#1a1a1a" stroke="#1a1a1a" stroke-width="0.14" textLength="11.7" lengthAdjust="spacingAndGlyphs" >Лист</text>
<text x="585.2" y="398.9" font-size="5.6" font-style="italic" text-anchor="middle" fill="#1a1a1a" stroke="#1a1a1a" stroke-width="0.14" textLength="16.3" lengthAdjust="spacingAndGlyphs" >Листов</text>
<text x="607.3" y="398.9" font-size="5.6" font-style="italic" text-anchor="middle" fill="#1a1a1a" stroke="#1a1a1a" stroke-width="0.14" >1</text>
<text x="533.9" y="356.5" font-size="9.4" font-style="italic" text-anchor="middle" fill="#1a1a1a" stroke="#1a1a1a" stroke-width="0.14" textLength="106.7" lengthAdjust="spacingAndGlyphs" >ЦН-11-900-2СП-000 ВО</text>
<text x="497.2" y="381.8" font-size="9.2" font-style="italic" text-anchor="middle" fill="#1a1a1a" stroke="#1a1a1a" stroke-width="0.14" textLength="85" lengthAdjust="spacingAndGlyphs" >Циклон ЦН-11-900х2СП</text>
<text x="566.5" y="426.6" font-size="5.4" font-style="italic" text-anchor="middle" fill="#1a1a1a" stroke="#1a1a1a" stroke-width="0.14" textLength="24.3" lengthAdjust="spacingAndGlyphs" >Формат А3</text>
<text x="498.5" y="426.6" font-size="5.4" font-style="italic" text-anchor="middle" fill="#1a1a1a" stroke="#1a1a1a" stroke-width="0.14" textLength="24.2" lengthAdjust="spacingAndGlyphs" >Копировал</text>
<text x="475.4" y="426.6" font-size="5" font-style="italic" text-anchor="middle" fill="#1a1a1a" stroke="#1a1a1a" stroke-width="0.14" >1</text>
<ellipse cx="554.2" cy="406.70000000000005" rx="5.6" ry="1.45" fill="none" stroke="#1a1a1a" stroke-width="1.1"/>
<ellipse cx="554.2" cy="410.00000000000006" rx="5.6" ry="1.45" fill="none" stroke="#1a1a1a" stroke-width="1.1"/>
<ellipse cx="554.2" cy="413.30000000000007" rx="5.6" ry="1.45" fill="none" stroke="#1a1a1a" stroke-width="1.1"/>
<ellipse cx="554.2" cy="416.6" rx="5.6" ry="1.45" fill="none" stroke="#1a1a1a" stroke-width="1.1"/>
<line x1="548.8" y1="406.5" x2="559.6" y2="409.6" stroke="#1a1a1a" stroke-width="0.8" />
<line x1="548.8" y1="409.8" x2="559.6" y2="412.9" stroke="#1a1a1a" stroke-width="0.8" />
<line x1="548.8" y1="413.1" x2="559.6" y2="416.2" stroke="#1a1a1a" stroke-width="0.8" />
<text x="579.4" y="419.6" font-size="20.5" font-weight="bold" text-anchor="middle" textLength="31" lengthAdjust="spacingAndGlyphs" fill="#fff" stroke="#1a1a1a" stroke-width="1.7" paint-order="normal">KVZR</text>
<text x="596" y="411" font-size="6" font-style="italic" text-anchor="start" fill="#555" stroke="#555" stroke-width="0.14" textLength="21.5" lengthAdjust="spacingAndGlyphs" >Котельный</text>
<text x="596" y="418" font-size="6" font-style="italic" text-anchor="start" fill="#555" stroke="#555" stroke-width="0.14" textLength="20.5" lengthAdjust="spacingAndGlyphs" >завод РЭП</text>
<line x1="537.7" y1="217.1" x2="564" y2="271.7" stroke="#1a1a1a" stroke-width="1.0" />
<line x1="586.6" y1="244.5" x2="573.3" y2="277" stroke="#1a1a1a" stroke-width="1.0" />
<line x1="610.4" y1="231.1" x2="584.5" y2="271.7" stroke="#1a1a1a" stroke-width="1.0" />
<polyline points="564,271.7 573.3,277 584.5,271.7" fill="none" stroke="#1a1a1a" stroke-width="1.0" />
<polyline points="562.5,270.5 566,272.5" fill="none" stroke="#1a1a1a" stroke-width="0.6" />
<polyline points="583,270.5 586,272.5" fill="none" stroke="#1a1a1a" stroke-width="0.6" />
<polygon points="537.7,205.3 561.5,192.7 610.4,220.6 586.6,233.2" fill="#fff" stroke="#1a1a1a" stroke-width="1.0" />
<polygon points="537.7,205.3 586.6,233.2 586.6,243.7 537.7,217.1" fill="#fff" stroke="#1a1a1a" stroke-width="1.0" />
<polygon points="586.6,233.2 610.4,220.6 610.4,231.1 586.6,243.7" fill="#fff" stroke="#1a1a1a" stroke-width="1.0" />
<polygon points="532,216.8 535,215.20000000000002 538,216.8 535,218.4" fill="#1a1a1a" stroke="#1a1a1a" stroke-width="0.8" />
<polygon points="583.6,245.5 586.6,243.9 589.6,245.5 586.6,247.1" fill="#1a1a1a" stroke="#1a1a1a" stroke-width="0.8" />
<polygon points="609.5,232.3 612.5,230.70000000000002 615.5,232.3 612.5,233.9" fill="#1a1a1a" stroke="#1a1a1a" stroke-width="0.8" />
<polygon points="543.9,155.4 553.8,205.3 567.7,205.3 570.6,161.7" fill="#fff" stroke="#1a1a1a" stroke-width="1.0" />
<ellipse cx="560.7" cy="206.3" rx="7.4" ry="2.9" fill="#fff" stroke="#1a1a1a" stroke-width="1.3" />
<path d="M544.1,104 L544.1,155.4 Q552,165.5 570.6,161.7 L571,104 Z" fill="#fff" stroke="none" stroke-width="0" />
<path d="M544.1,104 L544.1,155.4 Q552,165.5 570.6,161.7 L571,104" fill="none" stroke="#1a1a1a" stroke-width="1.0" />
<polygon points="571.1,172.8 580.3,220.6 594.6,220.6 602.6,172.8" fill="#fff" stroke="#1a1a1a" stroke-width="1.0" />
<ellipse cx="587.4" cy="221.4" rx="7.6" ry="3.2" fill="#fff" stroke="#1a1a1a" stroke-width="1.3" />
<line x1="589.6" y1="179" x2="588.6" y2="218" stroke="#1a1a1a" stroke-width="1.0" />
<path d="M571.1,120 L571.1,172.8 Q587,184.5 603.5,172.8 L603.5,120 Z" fill="#fff" stroke="none" stroke-width="0" />
<path d="M571.1,120 L571.1,172.8 Q587,184.5 603.5,172.8 L603.5,120" fill="none" stroke="#1a1a1a" stroke-width="1.0" />
<path d="M571.1,124 Q573,131.5 587,131.8 Q602,131.5 603.5,122 Q603.5,113 592,109" fill="#fff" stroke="#1a1a1a" stroke-width="1.0" />
<path d="M577,104 L577,123 Q587,129 596.5,123 L596.5,104" fill="#fff" stroke="#1a1a1a" stroke-width="1.0" />
<path d="M544.1,108 Q544.5,99 551,97.5" fill="none" stroke="#1a1a1a" stroke-width="1.0" />
<line x1="550.5" y1="91.5" x2="550.5" y2="99" stroke="#1a1a1a" stroke-width="1.0" />
<polygon points="551.3,106.3 560,106.3 560,123.8 551.3,123.8" fill="#fff" stroke="#1a1a1a" stroke-width="1.0" />
<polygon points="561.2,109.2 570,109.2 570,129 561.2,129" fill="#fff" stroke="#1a1a1a" stroke-width="1.0" />
<polygon points="551.3,106.3 556,103 566,103 560,106.3" fill="#fff" stroke="#1a1a1a" stroke-width="1.0" />
<polygon points="561.2,109.2 566,105.8 575.5,105.8 570,109.2" fill="#fff" stroke="#1a1a1a" stroke-width="1.0" />
<line x1="553.5" y1="108" x2="553.5" y2="122.5" stroke="#1a1a1a" stroke-width="0.6" />
<line x1="563.5" y1="111" x2="563.5" y2="127.5" stroke="#1a1a1a" stroke-width="0.6" />
<line x1="551.3" y1="121.5" x2="560" y2="121.5" stroke="#1a1a1a" stroke-width="0.6" />
<line x1="561.2" y1="126.5" x2="570" y2="126.5" stroke="#1a1a1a" stroke-width="0.6" />
<polygon points="537.7,75.2 587.3,102.2 587.3,109.7 537.7,83" fill="#fff" stroke="#1a1a1a" stroke-width="1.0" />
<polygon points="587.3,102.2 610.4,89.8 610.4,97.3 587.3,109.7" fill="#fff" stroke="#1a1a1a" stroke-width="1.0" />
<polygon points="537.7,75.2 560.7,61.2 610.4,89.8 587.3,102.2" fill="#fff" stroke="#1a1a1a" stroke-width="1.0" />
<line x1="537.7" y1="75.2" x2="560" y2="74" stroke="#1a1a1a" stroke-width="0.8" />
<line x1="587.3" y1="102.2" x2="579" y2="83.3" stroke="#1a1a1a" stroke-width="0.8" />
<line x1="610.4" y1="89.8" x2="587" y2="78" stroke="#1a1a1a" stroke-width="0.8" />
<line x1="560.7" y1="61.2" x2="566" y2="65.5" stroke="#1a1a1a" stroke-width="0.8" />
<path d="M560,72.4 L560,80 Q561,88 574,88 Q587,88 588,80 L588,72.4" fill="#fff" stroke="#1a1a1a" stroke-width="1.0" />
<ellipse cx="574" cy="72.4" rx="14" ry="7.3" fill="#fff" stroke="#1a1a1a" stroke-width="1.3" />
<ellipse cx="574" cy="73" rx="12.3" ry="6.1" fill="none" stroke="#1a1a1a" stroke-width="0.8" />
<line x1="563" y1="76" x2="584" y2="71.3" stroke="#1a1a1a" stroke-width="0.62" />
</svg>
</body></html>
